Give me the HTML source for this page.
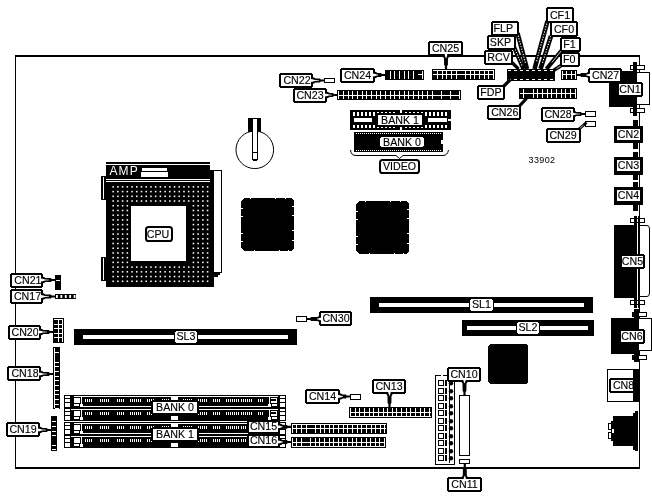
<!DOCTYPE html>
<html><head><meta charset="utf-8"><title>33902</title>
<style>
html,body{margin:0;padding:0;background:#fff;}
body{width:652px;height:500px;overflow:hidden;}
svg{display:block;font-family:"Liberation Sans",sans-serif;will-change:transform;transform:translateZ(0);}
</style></head>
<body>
<svg width="652" height="500" viewBox="0 0 652 500" shape-rendering="crispEdges">
<rect x="0" y="0" width="652" height="500" fill="#fff"/>
<rect x="15" y="55" width="625" height="2" fill="#000"/>
<rect x="15" y="55" width="1" height="414" fill="#000"/>
<rect x="15" y="467" width="625" height="2" fill="#000"/>
<rect x="639" y="55" width="1" height="414" fill="#000"/>
<rect x="106" y="162" width="104" height="2" fill="#000"/>
<rect x="106" y="165" width="104" height="14" fill="#000"/>
<rect x="106" y="180" width="104" height="1" fill="#000"/>
<rect x="106" y="182" width="108" height="105" fill="#000"/>
<rect x="210" y="170" width="12" height="103" fill="#000"/>
<rect x="214" y="171" width="7" height="101" fill="#fff"/>
<rect x="214" y="273" width="6" height="2" fill="#000"/>
<rect x="214" y="275" width="4" height="2" fill="#000"/>
<rect x="101" y="176" width="5" height="24" fill="#000"/>
<rect x="103" y="177" width="1" height="22" fill="#fff"/>
<rect x="101" y="257" width="5" height="24" fill="#000"/>
<rect x="103" y="258" width="1" height="22" fill="#fff"/>
<rect x="112.4" y="186.1" width="1.55" height="1.55" fill="#fff" shape-rendering="geometricPrecision"/>
<rect x="112.4" y="190.82" width="1.55" height="1.55" fill="#fff" shape-rendering="geometricPrecision"/>
<rect x="112.4" y="195.54" width="1.55" height="1.55" fill="#fff" shape-rendering="geometricPrecision"/>
<rect x="112.4" y="200.26" width="1.55" height="1.55" fill="#fff" shape-rendering="geometricPrecision"/>
<rect x="112.4" y="204.98" width="1.55" height="1.55" fill="#fff" shape-rendering="geometricPrecision"/>
<rect x="112.4" y="209.7" width="1.55" height="1.55" fill="#fff" shape-rendering="geometricPrecision"/>
<rect x="112.4" y="214.42" width="1.55" height="1.55" fill="#fff" shape-rendering="geometricPrecision"/>
<rect x="112.4" y="219.14" width="1.55" height="1.55" fill="#fff" shape-rendering="geometricPrecision"/>
<rect x="112.4" y="223.86" width="1.55" height="1.55" fill="#fff" shape-rendering="geometricPrecision"/>
<rect x="112.4" y="228.58" width="1.55" height="1.55" fill="#fff" shape-rendering="geometricPrecision"/>
<rect x="112.4" y="233.3" width="1.55" height="1.55" fill="#fff" shape-rendering="geometricPrecision"/>
<rect x="112.4" y="238.02" width="1.55" height="1.55" fill="#fff" shape-rendering="geometricPrecision"/>
<rect x="112.4" y="242.74" width="1.55" height="1.55" fill="#fff" shape-rendering="geometricPrecision"/>
<rect x="112.4" y="247.46" width="1.55" height="1.55" fill="#fff" shape-rendering="geometricPrecision"/>
<rect x="112.4" y="252.18" width="1.55" height="1.55" fill="#fff" shape-rendering="geometricPrecision"/>
<rect x="112.4" y="256.9" width="1.55" height="1.55" fill="#fff" shape-rendering="geometricPrecision"/>
<rect x="112.4" y="261.62" width="1.55" height="1.55" fill="#fff" shape-rendering="geometricPrecision"/>
<rect x="112.4" y="266.34" width="1.55" height="1.55" fill="#fff" shape-rendering="geometricPrecision"/>
<rect x="112.4" y="271.06" width="1.55" height="1.55" fill="#fff" shape-rendering="geometricPrecision"/>
<rect x="112.4" y="275.78" width="1.55" height="1.55" fill="#fff" shape-rendering="geometricPrecision"/>
<rect x="112.4" y="280.5" width="1.55" height="1.55" fill="#fff" shape-rendering="geometricPrecision"/>
<rect x="117.12" y="186.1" width="1.55" height="1.55" fill="#fff" shape-rendering="geometricPrecision"/>
<rect x="117.12" y="190.82" width="1.55" height="1.55" fill="#fff" shape-rendering="geometricPrecision"/>
<rect x="117.12" y="195.54" width="1.55" height="1.55" fill="#fff" shape-rendering="geometricPrecision"/>
<rect x="117.12" y="200.26" width="1.55" height="1.55" fill="#fff" shape-rendering="geometricPrecision"/>
<rect x="117.12" y="204.98" width="1.55" height="1.55" fill="#fff" shape-rendering="geometricPrecision"/>
<rect x="117.12" y="209.7" width="1.55" height="1.55" fill="#fff" shape-rendering="geometricPrecision"/>
<rect x="117.12" y="214.42" width="1.55" height="1.55" fill="#fff" shape-rendering="geometricPrecision"/>
<rect x="117.12" y="219.14" width="1.55" height="1.55" fill="#fff" shape-rendering="geometricPrecision"/>
<rect x="117.12" y="223.86" width="1.55" height="1.55" fill="#fff" shape-rendering="geometricPrecision"/>
<rect x="117.12" y="228.58" width="1.55" height="1.55" fill="#fff" shape-rendering="geometricPrecision"/>
<rect x="117.12" y="233.3" width="1.55" height="1.55" fill="#fff" shape-rendering="geometricPrecision"/>
<rect x="117.12" y="238.02" width="1.55" height="1.55" fill="#fff" shape-rendering="geometricPrecision"/>
<rect x="117.12" y="242.74" width="1.55" height="1.55" fill="#fff" shape-rendering="geometricPrecision"/>
<rect x="117.12" y="247.46" width="1.55" height="1.55" fill="#fff" shape-rendering="geometricPrecision"/>
<rect x="117.12" y="252.18" width="1.55" height="1.55" fill="#fff" shape-rendering="geometricPrecision"/>
<rect x="117.12" y="256.9" width="1.55" height="1.55" fill="#fff" shape-rendering="geometricPrecision"/>
<rect x="117.12" y="261.62" width="1.55" height="1.55" fill="#fff" shape-rendering="geometricPrecision"/>
<rect x="117.12" y="266.34" width="1.55" height="1.55" fill="#fff" shape-rendering="geometricPrecision"/>
<rect x="117.12" y="271.06" width="1.55" height="1.55" fill="#fff" shape-rendering="geometricPrecision"/>
<rect x="117.12" y="275.78" width="1.55" height="1.55" fill="#fff" shape-rendering="geometricPrecision"/>
<rect x="117.12" y="280.5" width="1.55" height="1.55" fill="#fff" shape-rendering="geometricPrecision"/>
<rect x="121.84" y="186.1" width="1.55" height="1.55" fill="#fff" shape-rendering="geometricPrecision"/>
<rect x="121.84" y="190.82" width="1.55" height="1.55" fill="#fff" shape-rendering="geometricPrecision"/>
<rect x="121.84" y="195.54" width="1.55" height="1.55" fill="#fff" shape-rendering="geometricPrecision"/>
<rect x="121.84" y="200.26" width="1.55" height="1.55" fill="#fff" shape-rendering="geometricPrecision"/>
<rect x="121.84" y="204.98" width="1.55" height="1.55" fill="#fff" shape-rendering="geometricPrecision"/>
<rect x="121.84" y="209.7" width="1.55" height="1.55" fill="#fff" shape-rendering="geometricPrecision"/>
<rect x="121.84" y="214.42" width="1.55" height="1.55" fill="#fff" shape-rendering="geometricPrecision"/>
<rect x="121.84" y="219.14" width="1.55" height="1.55" fill="#fff" shape-rendering="geometricPrecision"/>
<rect x="121.84" y="223.86" width="1.55" height="1.55" fill="#fff" shape-rendering="geometricPrecision"/>
<rect x="121.84" y="228.58" width="1.55" height="1.55" fill="#fff" shape-rendering="geometricPrecision"/>
<rect x="121.84" y="233.3" width="1.55" height="1.55" fill="#fff" shape-rendering="geometricPrecision"/>
<rect x="121.84" y="238.02" width="1.55" height="1.55" fill="#fff" shape-rendering="geometricPrecision"/>
<rect x="121.84" y="242.74" width="1.55" height="1.55" fill="#fff" shape-rendering="geometricPrecision"/>
<rect x="121.84" y="247.46" width="1.55" height="1.55" fill="#fff" shape-rendering="geometricPrecision"/>
<rect x="121.84" y="252.18" width="1.55" height="1.55" fill="#fff" shape-rendering="geometricPrecision"/>
<rect x="121.84" y="256.9" width="1.55" height="1.55" fill="#fff" shape-rendering="geometricPrecision"/>
<rect x="121.84" y="261.62" width="1.55" height="1.55" fill="#fff" shape-rendering="geometricPrecision"/>
<rect x="121.84" y="266.34" width="1.55" height="1.55" fill="#fff" shape-rendering="geometricPrecision"/>
<rect x="121.84" y="271.06" width="1.55" height="1.55" fill="#fff" shape-rendering="geometricPrecision"/>
<rect x="121.84" y="275.78" width="1.55" height="1.55" fill="#fff" shape-rendering="geometricPrecision"/>
<rect x="121.84" y="280.5" width="1.55" height="1.55" fill="#fff" shape-rendering="geometricPrecision"/>
<rect x="126.56" y="186.1" width="1.55" height="1.55" fill="#fff" shape-rendering="geometricPrecision"/>
<rect x="126.56" y="190.82" width="1.55" height="1.55" fill="#fff" shape-rendering="geometricPrecision"/>
<rect x="126.56" y="195.54" width="1.55" height="1.55" fill="#fff" shape-rendering="geometricPrecision"/>
<rect x="126.56" y="200.26" width="1.55" height="1.55" fill="#fff" shape-rendering="geometricPrecision"/>
<rect x="126.56" y="204.98" width="1.55" height="1.55" fill="#fff" shape-rendering="geometricPrecision"/>
<rect x="126.56" y="209.7" width="1.55" height="1.55" fill="#fff" shape-rendering="geometricPrecision"/>
<rect x="126.56" y="214.42" width="1.55" height="1.55" fill="#fff" shape-rendering="geometricPrecision"/>
<rect x="126.56" y="219.14" width="1.55" height="1.55" fill="#fff" shape-rendering="geometricPrecision"/>
<rect x="126.56" y="223.86" width="1.55" height="1.55" fill="#fff" shape-rendering="geometricPrecision"/>
<rect x="126.56" y="228.58" width="1.55" height="1.55" fill="#fff" shape-rendering="geometricPrecision"/>
<rect x="126.56" y="233.3" width="1.55" height="1.55" fill="#fff" shape-rendering="geometricPrecision"/>
<rect x="126.56" y="238.02" width="1.55" height="1.55" fill="#fff" shape-rendering="geometricPrecision"/>
<rect x="126.56" y="242.74" width="1.55" height="1.55" fill="#fff" shape-rendering="geometricPrecision"/>
<rect x="126.56" y="247.46" width="1.55" height="1.55" fill="#fff" shape-rendering="geometricPrecision"/>
<rect x="126.56" y="252.18" width="1.55" height="1.55" fill="#fff" shape-rendering="geometricPrecision"/>
<rect x="126.56" y="256.9" width="1.55" height="1.55" fill="#fff" shape-rendering="geometricPrecision"/>
<rect x="126.56" y="261.62" width="1.55" height="1.55" fill="#fff" shape-rendering="geometricPrecision"/>
<rect x="126.56" y="266.34" width="1.55" height="1.55" fill="#fff" shape-rendering="geometricPrecision"/>
<rect x="126.56" y="271.06" width="1.55" height="1.55" fill="#fff" shape-rendering="geometricPrecision"/>
<rect x="126.56" y="275.78" width="1.55" height="1.55" fill="#fff" shape-rendering="geometricPrecision"/>
<rect x="126.56" y="280.5" width="1.55" height="1.55" fill="#fff" shape-rendering="geometricPrecision"/>
<rect x="131.28" y="186.1" width="1.55" height="1.55" fill="#fff" shape-rendering="geometricPrecision"/>
<rect x="131.28" y="190.82" width="1.55" height="1.55" fill="#fff" shape-rendering="geometricPrecision"/>
<rect x="131.28" y="195.54" width="1.55" height="1.55" fill="#fff" shape-rendering="geometricPrecision"/>
<rect x="131.28" y="200.26" width="1.55" height="1.55" fill="#fff" shape-rendering="geometricPrecision"/>
<rect x="131.28" y="266.34" width="1.55" height="1.55" fill="#fff" shape-rendering="geometricPrecision"/>
<rect x="131.28" y="271.06" width="1.55" height="1.55" fill="#fff" shape-rendering="geometricPrecision"/>
<rect x="131.28" y="275.78" width="1.55" height="1.55" fill="#fff" shape-rendering="geometricPrecision"/>
<rect x="131.28" y="280.5" width="1.55" height="1.55" fill="#fff" shape-rendering="geometricPrecision"/>
<rect x="136" y="186.1" width="1.55" height="1.55" fill="#fff" shape-rendering="geometricPrecision"/>
<rect x="136" y="190.82" width="1.55" height="1.55" fill="#fff" shape-rendering="geometricPrecision"/>
<rect x="136" y="195.54" width="1.55" height="1.55" fill="#fff" shape-rendering="geometricPrecision"/>
<rect x="136" y="200.26" width="1.55" height="1.55" fill="#fff" shape-rendering="geometricPrecision"/>
<rect x="136" y="266.34" width="1.55" height="1.55" fill="#fff" shape-rendering="geometricPrecision"/>
<rect x="136" y="271.06" width="1.55" height="1.55" fill="#fff" shape-rendering="geometricPrecision"/>
<rect x="136" y="275.78" width="1.55" height="1.55" fill="#fff" shape-rendering="geometricPrecision"/>
<rect x="136" y="280.5" width="1.55" height="1.55" fill="#fff" shape-rendering="geometricPrecision"/>
<rect x="140.72" y="186.1" width="1.55" height="1.55" fill="#fff" shape-rendering="geometricPrecision"/>
<rect x="140.72" y="190.82" width="1.55" height="1.55" fill="#fff" shape-rendering="geometricPrecision"/>
<rect x="140.72" y="195.54" width="1.55" height="1.55" fill="#fff" shape-rendering="geometricPrecision"/>
<rect x="140.72" y="200.26" width="1.55" height="1.55" fill="#fff" shape-rendering="geometricPrecision"/>
<rect x="140.72" y="266.34" width="1.55" height="1.55" fill="#fff" shape-rendering="geometricPrecision"/>
<rect x="140.72" y="271.06" width="1.55" height="1.55" fill="#fff" shape-rendering="geometricPrecision"/>
<rect x="140.72" y="275.78" width="1.55" height="1.55" fill="#fff" shape-rendering="geometricPrecision"/>
<rect x="140.72" y="280.5" width="1.55" height="1.55" fill="#fff" shape-rendering="geometricPrecision"/>
<rect x="145.44" y="186.1" width="1.55" height="1.55" fill="#fff" shape-rendering="geometricPrecision"/>
<rect x="145.44" y="190.82" width="1.55" height="1.55" fill="#fff" shape-rendering="geometricPrecision"/>
<rect x="145.44" y="195.54" width="1.55" height="1.55" fill="#fff" shape-rendering="geometricPrecision"/>
<rect x="145.44" y="200.26" width="1.55" height="1.55" fill="#fff" shape-rendering="geometricPrecision"/>
<rect x="145.44" y="266.34" width="1.55" height="1.55" fill="#fff" shape-rendering="geometricPrecision"/>
<rect x="145.44" y="271.06" width="1.55" height="1.55" fill="#fff" shape-rendering="geometricPrecision"/>
<rect x="145.44" y="275.78" width="1.55" height="1.55" fill="#fff" shape-rendering="geometricPrecision"/>
<rect x="145.44" y="280.5" width="1.55" height="1.55" fill="#fff" shape-rendering="geometricPrecision"/>
<rect x="150.16" y="186.1" width="1.55" height="1.55" fill="#fff" shape-rendering="geometricPrecision"/>
<rect x="150.16" y="190.82" width="1.55" height="1.55" fill="#fff" shape-rendering="geometricPrecision"/>
<rect x="150.16" y="195.54" width="1.55" height="1.55" fill="#fff" shape-rendering="geometricPrecision"/>
<rect x="150.16" y="200.26" width="1.55" height="1.55" fill="#fff" shape-rendering="geometricPrecision"/>
<rect x="150.16" y="266.34" width="1.55" height="1.55" fill="#fff" shape-rendering="geometricPrecision"/>
<rect x="150.16" y="271.06" width="1.55" height="1.55" fill="#fff" shape-rendering="geometricPrecision"/>
<rect x="150.16" y="275.78" width="1.55" height="1.55" fill="#fff" shape-rendering="geometricPrecision"/>
<rect x="150.16" y="280.5" width="1.55" height="1.55" fill="#fff" shape-rendering="geometricPrecision"/>
<rect x="154.88" y="186.1" width="1.55" height="1.55" fill="#fff" shape-rendering="geometricPrecision"/>
<rect x="154.88" y="190.82" width="1.55" height="1.55" fill="#fff" shape-rendering="geometricPrecision"/>
<rect x="154.88" y="195.54" width="1.55" height="1.55" fill="#fff" shape-rendering="geometricPrecision"/>
<rect x="154.88" y="200.26" width="1.55" height="1.55" fill="#fff" shape-rendering="geometricPrecision"/>
<rect x="154.88" y="266.34" width="1.55" height="1.55" fill="#fff" shape-rendering="geometricPrecision"/>
<rect x="154.88" y="271.06" width="1.55" height="1.55" fill="#fff" shape-rendering="geometricPrecision"/>
<rect x="154.88" y="275.78" width="1.55" height="1.55" fill="#fff" shape-rendering="geometricPrecision"/>
<rect x="154.88" y="280.5" width="1.55" height="1.55" fill="#fff" shape-rendering="geometricPrecision"/>
<rect x="159.6" y="186.1" width="1.55" height="1.55" fill="#fff" shape-rendering="geometricPrecision"/>
<rect x="159.6" y="190.82" width="1.55" height="1.55" fill="#fff" shape-rendering="geometricPrecision"/>
<rect x="159.6" y="195.54" width="1.55" height="1.55" fill="#fff" shape-rendering="geometricPrecision"/>
<rect x="159.6" y="200.26" width="1.55" height="1.55" fill="#fff" shape-rendering="geometricPrecision"/>
<rect x="159.6" y="266.34" width="1.55" height="1.55" fill="#fff" shape-rendering="geometricPrecision"/>
<rect x="159.6" y="271.06" width="1.55" height="1.55" fill="#fff" shape-rendering="geometricPrecision"/>
<rect x="159.6" y="275.78" width="1.55" height="1.55" fill="#fff" shape-rendering="geometricPrecision"/>
<rect x="159.6" y="280.5" width="1.55" height="1.55" fill="#fff" shape-rendering="geometricPrecision"/>
<rect x="164.32" y="186.1" width="1.55" height="1.55" fill="#fff" shape-rendering="geometricPrecision"/>
<rect x="164.32" y="190.82" width="1.55" height="1.55" fill="#fff" shape-rendering="geometricPrecision"/>
<rect x="164.32" y="195.54" width="1.55" height="1.55" fill="#fff" shape-rendering="geometricPrecision"/>
<rect x="164.32" y="200.26" width="1.55" height="1.55" fill="#fff" shape-rendering="geometricPrecision"/>
<rect x="164.32" y="266.34" width="1.55" height="1.55" fill="#fff" shape-rendering="geometricPrecision"/>
<rect x="164.32" y="271.06" width="1.55" height="1.55" fill="#fff" shape-rendering="geometricPrecision"/>
<rect x="164.32" y="275.78" width="1.55" height="1.55" fill="#fff" shape-rendering="geometricPrecision"/>
<rect x="164.32" y="280.5" width="1.55" height="1.55" fill="#fff" shape-rendering="geometricPrecision"/>
<rect x="169.04" y="186.1" width="1.55" height="1.55" fill="#fff" shape-rendering="geometricPrecision"/>
<rect x="169.04" y="190.82" width="1.55" height="1.55" fill="#fff" shape-rendering="geometricPrecision"/>
<rect x="169.04" y="195.54" width="1.55" height="1.55" fill="#fff" shape-rendering="geometricPrecision"/>
<rect x="169.04" y="200.26" width="1.55" height="1.55" fill="#fff" shape-rendering="geometricPrecision"/>
<rect x="169.04" y="266.34" width="1.55" height="1.55" fill="#fff" shape-rendering="geometricPrecision"/>
<rect x="169.04" y="271.06" width="1.55" height="1.55" fill="#fff" shape-rendering="geometricPrecision"/>
<rect x="169.04" y="275.78" width="1.55" height="1.55" fill="#fff" shape-rendering="geometricPrecision"/>
<rect x="169.04" y="280.5" width="1.55" height="1.55" fill="#fff" shape-rendering="geometricPrecision"/>
<rect x="173.76" y="186.1" width="1.55" height="1.55" fill="#fff" shape-rendering="geometricPrecision"/>
<rect x="173.76" y="190.82" width="1.55" height="1.55" fill="#fff" shape-rendering="geometricPrecision"/>
<rect x="173.76" y="195.54" width="1.55" height="1.55" fill="#fff" shape-rendering="geometricPrecision"/>
<rect x="173.76" y="200.26" width="1.55" height="1.55" fill="#fff" shape-rendering="geometricPrecision"/>
<rect x="173.76" y="266.34" width="1.55" height="1.55" fill="#fff" shape-rendering="geometricPrecision"/>
<rect x="173.76" y="271.06" width="1.55" height="1.55" fill="#fff" shape-rendering="geometricPrecision"/>
<rect x="173.76" y="275.78" width="1.55" height="1.55" fill="#fff" shape-rendering="geometricPrecision"/>
<rect x="173.76" y="280.5" width="1.55" height="1.55" fill="#fff" shape-rendering="geometricPrecision"/>
<rect x="178.48" y="186.1" width="1.55" height="1.55" fill="#fff" shape-rendering="geometricPrecision"/>
<rect x="178.48" y="190.82" width="1.55" height="1.55" fill="#fff" shape-rendering="geometricPrecision"/>
<rect x="178.48" y="195.54" width="1.55" height="1.55" fill="#fff" shape-rendering="geometricPrecision"/>
<rect x="178.48" y="200.26" width="1.55" height="1.55" fill="#fff" shape-rendering="geometricPrecision"/>
<rect x="178.48" y="266.34" width="1.55" height="1.55" fill="#fff" shape-rendering="geometricPrecision"/>
<rect x="178.48" y="271.06" width="1.55" height="1.55" fill="#fff" shape-rendering="geometricPrecision"/>
<rect x="178.48" y="275.78" width="1.55" height="1.55" fill="#fff" shape-rendering="geometricPrecision"/>
<rect x="178.48" y="280.5" width="1.55" height="1.55" fill="#fff" shape-rendering="geometricPrecision"/>
<rect x="183.2" y="186.1" width="1.55" height="1.55" fill="#fff" shape-rendering="geometricPrecision"/>
<rect x="183.2" y="190.82" width="1.55" height="1.55" fill="#fff" shape-rendering="geometricPrecision"/>
<rect x="183.2" y="195.54" width="1.55" height="1.55" fill="#fff" shape-rendering="geometricPrecision"/>
<rect x="183.2" y="200.26" width="1.55" height="1.55" fill="#fff" shape-rendering="geometricPrecision"/>
<rect x="183.2" y="266.34" width="1.55" height="1.55" fill="#fff" shape-rendering="geometricPrecision"/>
<rect x="183.2" y="271.06" width="1.55" height="1.55" fill="#fff" shape-rendering="geometricPrecision"/>
<rect x="183.2" y="275.78" width="1.55" height="1.55" fill="#fff" shape-rendering="geometricPrecision"/>
<rect x="183.2" y="280.5" width="1.55" height="1.55" fill="#fff" shape-rendering="geometricPrecision"/>
<rect x="187.92" y="186.1" width="1.55" height="1.55" fill="#fff" shape-rendering="geometricPrecision"/>
<rect x="187.92" y="190.82" width="1.55" height="1.55" fill="#fff" shape-rendering="geometricPrecision"/>
<rect x="187.92" y="195.54" width="1.55" height="1.55" fill="#fff" shape-rendering="geometricPrecision"/>
<rect x="187.92" y="200.26" width="1.55" height="1.55" fill="#fff" shape-rendering="geometricPrecision"/>
<rect x="187.92" y="266.34" width="1.55" height="1.55" fill="#fff" shape-rendering="geometricPrecision"/>
<rect x="187.92" y="271.06" width="1.55" height="1.55" fill="#fff" shape-rendering="geometricPrecision"/>
<rect x="187.92" y="275.78" width="1.55" height="1.55" fill="#fff" shape-rendering="geometricPrecision"/>
<rect x="187.92" y="280.5" width="1.55" height="1.55" fill="#fff" shape-rendering="geometricPrecision"/>
<rect x="192.64" y="186.1" width="1.55" height="1.55" fill="#fff" shape-rendering="geometricPrecision"/>
<rect x="192.64" y="190.82" width="1.55" height="1.55" fill="#fff" shape-rendering="geometricPrecision"/>
<rect x="192.64" y="195.54" width="1.55" height="1.55" fill="#fff" shape-rendering="geometricPrecision"/>
<rect x="192.64" y="200.26" width="1.55" height="1.55" fill="#fff" shape-rendering="geometricPrecision"/>
<rect x="192.64" y="204.98" width="1.55" height="1.55" fill="#fff" shape-rendering="geometricPrecision"/>
<rect x="192.64" y="209.7" width="1.55" height="1.55" fill="#fff" shape-rendering="geometricPrecision"/>
<rect x="192.64" y="214.42" width="1.55" height="1.55" fill="#fff" shape-rendering="geometricPrecision"/>
<rect x="192.64" y="219.14" width="1.55" height="1.55" fill="#fff" shape-rendering="geometricPrecision"/>
<rect x="192.64" y="223.86" width="1.55" height="1.55" fill="#fff" shape-rendering="geometricPrecision"/>
<rect x="192.64" y="228.58" width="1.55" height="1.55" fill="#fff" shape-rendering="geometricPrecision"/>
<rect x="192.64" y="233.3" width="1.55" height="1.55" fill="#fff" shape-rendering="geometricPrecision"/>
<rect x="192.64" y="238.02" width="1.55" height="1.55" fill="#fff" shape-rendering="geometricPrecision"/>
<rect x="192.64" y="242.74" width="1.55" height="1.55" fill="#fff" shape-rendering="geometricPrecision"/>
<rect x="192.64" y="247.46" width="1.55" height="1.55" fill="#fff" shape-rendering="geometricPrecision"/>
<rect x="192.64" y="252.18" width="1.55" height="1.55" fill="#fff" shape-rendering="geometricPrecision"/>
<rect x="192.64" y="256.9" width="1.55" height="1.55" fill="#fff" shape-rendering="geometricPrecision"/>
<rect x="192.64" y="261.62" width="1.55" height="1.55" fill="#fff" shape-rendering="geometricPrecision"/>
<rect x="192.64" y="266.34" width="1.55" height="1.55" fill="#fff" shape-rendering="geometricPrecision"/>
<rect x="192.64" y="271.06" width="1.55" height="1.55" fill="#fff" shape-rendering="geometricPrecision"/>
<rect x="192.64" y="275.78" width="1.55" height="1.55" fill="#fff" shape-rendering="geometricPrecision"/>
<rect x="192.64" y="280.5" width="1.55" height="1.55" fill="#fff" shape-rendering="geometricPrecision"/>
<rect x="197.36" y="186.1" width="1.55" height="1.55" fill="#fff" shape-rendering="geometricPrecision"/>
<rect x="197.36" y="190.82" width="1.55" height="1.55" fill="#fff" shape-rendering="geometricPrecision"/>
<rect x="197.36" y="195.54" width="1.55" height="1.55" fill="#fff" shape-rendering="geometricPrecision"/>
<rect x="197.36" y="200.26" width="1.55" height="1.55" fill="#fff" shape-rendering="geometricPrecision"/>
<rect x="197.36" y="204.98" width="1.55" height="1.55" fill="#fff" shape-rendering="geometricPrecision"/>
<rect x="197.36" y="209.7" width="1.55" height="1.55" fill="#fff" shape-rendering="geometricPrecision"/>
<rect x="197.36" y="214.42" width="1.55" height="1.55" fill="#fff" shape-rendering="geometricPrecision"/>
<rect x="197.36" y="219.14" width="1.55" height="1.55" fill="#fff" shape-rendering="geometricPrecision"/>
<rect x="197.36" y="223.86" width="1.55" height="1.55" fill="#fff" shape-rendering="geometricPrecision"/>
<rect x="197.36" y="228.58" width="1.55" height="1.55" fill="#fff" shape-rendering="geometricPrecision"/>
<rect x="197.36" y="233.3" width="1.55" height="1.55" fill="#fff" shape-rendering="geometricPrecision"/>
<rect x="197.36" y="238.02" width="1.55" height="1.55" fill="#fff" shape-rendering="geometricPrecision"/>
<rect x="197.36" y="242.74" width="1.55" height="1.55" fill="#fff" shape-rendering="geometricPrecision"/>
<rect x="197.36" y="247.46" width="1.55" height="1.55" fill="#fff" shape-rendering="geometricPrecision"/>
<rect x="197.36" y="252.18" width="1.55" height="1.55" fill="#fff" shape-rendering="geometricPrecision"/>
<rect x="197.36" y="256.9" width="1.55" height="1.55" fill="#fff" shape-rendering="geometricPrecision"/>
<rect x="197.36" y="261.62" width="1.55" height="1.55" fill="#fff" shape-rendering="geometricPrecision"/>
<rect x="197.36" y="266.34" width="1.55" height="1.55" fill="#fff" shape-rendering="geometricPrecision"/>
<rect x="197.36" y="271.06" width="1.55" height="1.55" fill="#fff" shape-rendering="geometricPrecision"/>
<rect x="197.36" y="275.78" width="1.55" height="1.55" fill="#fff" shape-rendering="geometricPrecision"/>
<rect x="197.36" y="280.5" width="1.55" height="1.55" fill="#fff" shape-rendering="geometricPrecision"/>
<rect x="202.08" y="186.1" width="1.55" height="1.55" fill="#fff" shape-rendering="geometricPrecision"/>
<rect x="202.08" y="190.82" width="1.55" height="1.55" fill="#fff" shape-rendering="geometricPrecision"/>
<rect x="202.08" y="195.54" width="1.55" height="1.55" fill="#fff" shape-rendering="geometricPrecision"/>
<rect x="202.08" y="200.26" width="1.55" height="1.55" fill="#fff" shape-rendering="geometricPrecision"/>
<rect x="202.08" y="204.98" width="1.55" height="1.55" fill="#fff" shape-rendering="geometricPrecision"/>
<rect x="202.08" y="209.7" width="1.55" height="1.55" fill="#fff" shape-rendering="geometricPrecision"/>
<rect x="202.08" y="214.42" width="1.55" height="1.55" fill="#fff" shape-rendering="geometricPrecision"/>
<rect x="202.08" y="219.14" width="1.55" height="1.55" fill="#fff" shape-rendering="geometricPrecision"/>
<rect x="202.08" y="223.86" width="1.55" height="1.55" fill="#fff" shape-rendering="geometricPrecision"/>
<rect x="202.08" y="228.58" width="1.55" height="1.55" fill="#fff" shape-rendering="geometricPrecision"/>
<rect x="202.08" y="233.3" width="1.55" height="1.55" fill="#fff" shape-rendering="geometricPrecision"/>
<rect x="202.08" y="238.02" width="1.55" height="1.55" fill="#fff" shape-rendering="geometricPrecision"/>
<rect x="202.08" y="242.74" width="1.55" height="1.55" fill="#fff" shape-rendering="geometricPrecision"/>
<rect x="202.08" y="247.46" width="1.55" height="1.55" fill="#fff" shape-rendering="geometricPrecision"/>
<rect x="202.08" y="252.18" width="1.55" height="1.55" fill="#fff" shape-rendering="geometricPrecision"/>
<rect x="202.08" y="256.9" width="1.55" height="1.55" fill="#fff" shape-rendering="geometricPrecision"/>
<rect x="202.08" y="261.62" width="1.55" height="1.55" fill="#fff" shape-rendering="geometricPrecision"/>
<rect x="202.08" y="266.34" width="1.55" height="1.55" fill="#fff" shape-rendering="geometricPrecision"/>
<rect x="202.08" y="271.06" width="1.55" height="1.55" fill="#fff" shape-rendering="geometricPrecision"/>
<rect x="202.08" y="275.78" width="1.55" height="1.55" fill="#fff" shape-rendering="geometricPrecision"/>
<rect x="202.08" y="280.5" width="1.55" height="1.55" fill="#fff" shape-rendering="geometricPrecision"/>
<rect x="206.8" y="186.1" width="1.55" height="1.55" fill="#fff" shape-rendering="geometricPrecision"/>
<rect x="206.8" y="190.82" width="1.55" height="1.55" fill="#fff" shape-rendering="geometricPrecision"/>
<rect x="206.8" y="195.54" width="1.55" height="1.55" fill="#fff" shape-rendering="geometricPrecision"/>
<rect x="206.8" y="200.26" width="1.55" height="1.55" fill="#fff" shape-rendering="geometricPrecision"/>
<rect x="206.8" y="204.98" width="1.55" height="1.55" fill="#fff" shape-rendering="geometricPrecision"/>
<rect x="206.8" y="209.7" width="1.55" height="1.55" fill="#fff" shape-rendering="geometricPrecision"/>
<rect x="206.8" y="214.42" width="1.55" height="1.55" fill="#fff" shape-rendering="geometricPrecision"/>
<rect x="206.8" y="219.14" width="1.55" height="1.55" fill="#fff" shape-rendering="geometricPrecision"/>
<rect x="206.8" y="223.86" width="1.55" height="1.55" fill="#fff" shape-rendering="geometricPrecision"/>
<rect x="206.8" y="228.58" width="1.55" height="1.55" fill="#fff" shape-rendering="geometricPrecision"/>
<rect x="206.8" y="233.3" width="1.55" height="1.55" fill="#fff" shape-rendering="geometricPrecision"/>
<rect x="206.8" y="238.02" width="1.55" height="1.55" fill="#fff" shape-rendering="geometricPrecision"/>
<rect x="206.8" y="242.74" width="1.55" height="1.55" fill="#fff" shape-rendering="geometricPrecision"/>
<rect x="206.8" y="247.46" width="1.55" height="1.55" fill="#fff" shape-rendering="geometricPrecision"/>
<rect x="206.8" y="252.18" width="1.55" height="1.55" fill="#fff" shape-rendering="geometricPrecision"/>
<rect x="206.8" y="256.9" width="1.55" height="1.55" fill="#fff" shape-rendering="geometricPrecision"/>
<rect x="206.8" y="261.62" width="1.55" height="1.55" fill="#fff" shape-rendering="geometricPrecision"/>
<rect x="206.8" y="266.34" width="1.55" height="1.55" fill="#fff" shape-rendering="geometricPrecision"/>
<rect x="206.8" y="271.06" width="1.55" height="1.55" fill="#fff" shape-rendering="geometricPrecision"/>
<rect x="206.8" y="275.78" width="1.55" height="1.55" fill="#fff" shape-rendering="geometricPrecision"/>
<rect x="206.8" y="280.5" width="1.55" height="1.55" fill="#fff" shape-rendering="geometricPrecision"/>
<rect x="131" y="206" width="55" height="55" fill="#fff"/>
<rect x="142" y="168" width="25" height="3" fill="#fff"/>
<rect x="141" y="172" width="27" height="5" fill="#fff"/>
<text x="109.5" y="175.3" font-size="12" fill="#fff" text-anchor="start" letter-spacing="1.1">AMP</text>
<rect x="146" y="227" width="26" height="14" rx="2.6" fill="#fff" stroke="#000" stroke-width="2" shape-rendering="geometricPrecision"/>
<text x="158" y="238" font-size="10.67" fill="#000" text-anchor="middle" stroke="#000" stroke-width="0.12">CPU</text>
<circle cx="254.8" cy="149.8" r="18.8" fill="#fff" stroke="#000" stroke-width="1" shape-rendering="geometricPrecision"/>
<rect x="248" y="118" width="13" height="14" fill="#000"/>
<rect x="252" y="119" width="6" height="41" fill="#000"/>
<rect x="253" y="119" width="4" height="40" fill="#fff"/>
<rect x="253" y="152" width="4" height="1" fill="#000"/>
<rect x="253" y="159" width="4" height="2" fill="#000"/>
<polygon points="244,198 291,198 294,201 294,248 291,251 244,251 241,248 241,201" fill="#000"/>
<rect x="250" y="198" width="1" height="1" fill="#fff"/>
<rect x="275" y="198" width="1" height="1" fill="#fff"/>
<rect x="285" y="198" width="1" height="1" fill="#fff"/>
<rect x="254" y="250" width="1" height="1" fill="#fff"/>
<rect x="279" y="250" width="1" height="1" fill="#fff"/>
<rect x="288" y="250" width="1" height="1" fill="#fff"/>
<rect x="292" y="206" width="2" height="1" fill="#fff"/>
<rect x="292" y="215" width="2" height="1" fill="#fff"/>
<rect x="292" y="230" width="2" height="1" fill="#fff"/>
<rect x="292" y="240" width="2" height="1" fill="#fff"/>
<rect x="241" y="208" width="2" height="1" fill="#fff"/>
<rect x="241" y="216" width="2" height="1" fill="#fff"/>
<rect x="241" y="233" width="2" height="1" fill="#fff"/>
<rect x="241" y="241" width="2" height="1" fill="#fff"/>
<polygon points="359,201 406,201 409,204 409,251 406,254 359,254 356,251 356,204" fill="#000"/>
<rect x="365" y="201" width="1" height="1" fill="#fff"/>
<rect x="390" y="201" width="1" height="1" fill="#fff"/>
<rect x="400" y="201" width="1" height="1" fill="#fff"/>
<rect x="369" y="253" width="1" height="1" fill="#fff"/>
<rect x="394" y="253" width="1" height="1" fill="#fff"/>
<rect x="403" y="253" width="1" height="1" fill="#fff"/>
<rect x="407" y="209" width="2" height="1" fill="#fff"/>
<rect x="407" y="218" width="2" height="1" fill="#fff"/>
<rect x="407" y="233" width="2" height="1" fill="#fff"/>
<rect x="407" y="243" width="2" height="1" fill="#fff"/>
<rect x="356" y="211" width="2" height="1" fill="#fff"/>
<rect x="356" y="219" width="2" height="1" fill="#fff"/>
<rect x="356" y="236" width="2" height="1" fill="#fff"/>
<rect x="356" y="244" width="2" height="1" fill="#fff"/>
<polygon points="490,344 526,344 528,346 528,382 526,384 490,384 488,382 488,346" fill="#000"/>
<rect x="370" y="297" width="223" height="16" fill="#000"/>
<rect x="379" y="303" width="205" height="4" fill="#fff"/>
<rect x="462" y="320" width="132" height="16" fill="#000"/>
<rect x="467" y="326" width="121" height="4" fill="#fff"/>
<rect x="74" y="329" width="223" height="16" fill="#000"/>
<rect x="83" y="335" width="205" height="4" fill="#fff"/>
<rect x="469" y="299" width="25" height="12" fill="#000"/>
<rect x="470" y="300" width="23" height="10" fill="#fff"/>
<rect x="471" y="299" width="21" height="12" fill="#fff"/>
<text x="481.5" y="308" font-size="10.67" fill="#000" text-anchor="middle" stroke="#000" stroke-width="0.12">SL1</text>
<rect x="516" y="322" width="24" height="12" fill="#000"/>
<rect x="517" y="323" width="22" height="10" fill="#fff"/>
<rect x="518" y="322" width="20" height="12" fill="#fff"/>
<text x="528" y="331" font-size="10.67" fill="#000" text-anchor="middle" stroke="#000" stroke-width="0.12">SL2</text>
<rect x="174" y="331" width="24" height="12" fill="#000"/>
<rect x="175" y="332" width="22" height="10" fill="#fff"/>
<rect x="176" y="331" width="20" height="12" fill="#fff"/>
<text x="186" y="340" font-size="10.67" fill="#000" text-anchor="middle" stroke="#000" stroke-width="0.12">SL3</text>
<rect x="350" y="110" width="50" height="20" fill="#000"/>
<rect x="353" y="112" width="2" height="4" fill="#fff"/>
<rect x="353" y="125" width="2" height="3" fill="#fff"/>
<rect x="357" y="112" width="2" height="4" fill="#fff"/>
<rect x="357" y="125" width="2" height="3" fill="#fff"/>
<rect x="361" y="112" width="2" height="4" fill="#fff"/>
<rect x="361" y="125" width="2" height="3" fill="#fff"/>
<rect x="365" y="112" width="2" height="4" fill="#fff"/>
<rect x="365" y="125" width="2" height="3" fill="#fff"/>
<rect x="369" y="112" width="2" height="4" fill="#fff"/>
<rect x="369" y="125" width="2" height="3" fill="#fff"/>
<rect x="373" y="112" width="2" height="4" fill="#fff"/>
<rect x="373" y="125" width="2" height="3" fill="#fff"/>
<rect x="377" y="112" width="2" height="4" fill="#fff"/>
<rect x="377" y="125" width="2" height="3" fill="#fff"/>
<rect x="381" y="112" width="2" height="4" fill="#fff"/>
<rect x="381" y="125" width="2" height="3" fill="#fff"/>
<rect x="385" y="112" width="2" height="4" fill="#fff"/>
<rect x="385" y="125" width="2" height="3" fill="#fff"/>
<rect x="389" y="112" width="2" height="4" fill="#fff"/>
<rect x="389" y="125" width="2" height="3" fill="#fff"/>
<rect x="393" y="112" width="2" height="4" fill="#fff"/>
<rect x="393" y="125" width="2" height="3" fill="#fff"/>
<rect x="402" y="110" width="49" height="20" fill="#000"/>
<rect x="405" y="112" width="2" height="4" fill="#fff"/>
<rect x="405" y="125" width="2" height="3" fill="#fff"/>
<rect x="409" y="112" width="2" height="4" fill="#fff"/>
<rect x="409" y="125" width="2" height="3" fill="#fff"/>
<rect x="413" y="112" width="2" height="4" fill="#fff"/>
<rect x="413" y="125" width="2" height="3" fill="#fff"/>
<rect x="417" y="112" width="2" height="4" fill="#fff"/>
<rect x="417" y="125" width="2" height="3" fill="#fff"/>
<rect x="421" y="112" width="2" height="4" fill="#fff"/>
<rect x="421" y="125" width="2" height="3" fill="#fff"/>
<rect x="425" y="112" width="2" height="4" fill="#fff"/>
<rect x="425" y="125" width="2" height="3" fill="#fff"/>
<rect x="429" y="112" width="2" height="4" fill="#fff"/>
<rect x="429" y="125" width="2" height="3" fill="#fff"/>
<rect x="433" y="112" width="2" height="4" fill="#fff"/>
<rect x="433" y="125" width="2" height="3" fill="#fff"/>
<rect x="437" y="112" width="2" height="4" fill="#fff"/>
<rect x="437" y="125" width="2" height="3" fill="#fff"/>
<rect x="441" y="112" width="2" height="4" fill="#fff"/>
<rect x="441" y="125" width="2" height="3" fill="#fff"/>
<rect x="445" y="112" width="2" height="4" fill="#fff"/>
<rect x="445" y="125" width="2" height="3" fill="#fff"/>
<rect x="354" y="118" width="18" height="4" fill="#fff"/>
<rect x="428" y="118" width="19" height="4" fill="#fff"/>
<rect x="448" y="119" width="3" height="2" fill="#fff"/>
<rect x="354" y="132" width="89" height="20" fill="#000"/>
<rect x="356" y="133" width="1" height="1" fill="#fff"/>
<rect x="356" y="150" width="1" height="1" fill="#fff"/>
<rect x="358" y="133" width="1" height="1" fill="#fff"/>
<rect x="358" y="150" width="1" height="1" fill="#fff"/>
<rect x="360" y="133" width="1" height="1" fill="#fff"/>
<rect x="360" y="150" width="1" height="1" fill="#fff"/>
<rect x="362" y="133" width="1" height="1" fill="#fff"/>
<rect x="362" y="150" width="1" height="1" fill="#fff"/>
<rect x="364" y="133" width="1" height="1" fill="#fff"/>
<rect x="364" y="150" width="1" height="1" fill="#fff"/>
<rect x="366" y="133" width="1" height="1" fill="#fff"/>
<rect x="366" y="150" width="1" height="1" fill="#fff"/>
<rect x="368" y="133" width="1" height="1" fill="#fff"/>
<rect x="368" y="150" width="1" height="1" fill="#fff"/>
<rect x="370" y="133" width="1" height="1" fill="#fff"/>
<rect x="370" y="150" width="1" height="1" fill="#fff"/>
<rect x="372" y="133" width="1" height="1" fill="#fff"/>
<rect x="372" y="150" width="1" height="1" fill="#fff"/>
<rect x="374" y="133" width="1" height="1" fill="#fff"/>
<rect x="374" y="150" width="1" height="1" fill="#fff"/>
<rect x="376" y="133" width="1" height="1" fill="#fff"/>
<rect x="376" y="150" width="1" height="1" fill="#fff"/>
<rect x="378" y="133" width="1" height="1" fill="#fff"/>
<rect x="378" y="150" width="1" height="1" fill="#fff"/>
<rect x="380" y="133" width="1" height="1" fill="#fff"/>
<rect x="380" y="150" width="1" height="1" fill="#fff"/>
<rect x="382" y="133" width="1" height="1" fill="#fff"/>
<rect x="382" y="150" width="1" height="1" fill="#fff"/>
<rect x="384" y="133" width="1" height="1" fill="#fff"/>
<rect x="384" y="150" width="1" height="1" fill="#fff"/>
<rect x="386" y="133" width="1" height="1" fill="#fff"/>
<rect x="386" y="150" width="1" height="1" fill="#fff"/>
<rect x="388" y="133" width="1" height="1" fill="#fff"/>
<rect x="388" y="150" width="1" height="1" fill="#fff"/>
<rect x="390" y="133" width="1" height="1" fill="#fff"/>
<rect x="390" y="150" width="1" height="1" fill="#fff"/>
<rect x="392" y="133" width="1" height="1" fill="#fff"/>
<rect x="392" y="150" width="1" height="1" fill="#fff"/>
<rect x="394" y="133" width="1" height="1" fill="#fff"/>
<rect x="394" y="150" width="1" height="1" fill="#fff"/>
<rect x="396" y="133" width="1" height="1" fill="#fff"/>
<rect x="396" y="150" width="1" height="1" fill="#fff"/>
<rect x="398" y="133" width="1" height="1" fill="#fff"/>
<rect x="398" y="150" width="1" height="1" fill="#fff"/>
<rect x="400" y="133" width="1" height="1" fill="#fff"/>
<rect x="400" y="150" width="1" height="1" fill="#fff"/>
<rect x="402" y="133" width="1" height="1" fill="#fff"/>
<rect x="402" y="150" width="1" height="1" fill="#fff"/>
<rect x="404" y="133" width="1" height="1" fill="#fff"/>
<rect x="404" y="150" width="1" height="1" fill="#fff"/>
<rect x="406" y="133" width="1" height="1" fill="#fff"/>
<rect x="406" y="150" width="1" height="1" fill="#fff"/>
<rect x="408" y="133" width="1" height="1" fill="#fff"/>
<rect x="408" y="150" width="1" height="1" fill="#fff"/>
<rect x="410" y="133" width="1" height="1" fill="#fff"/>
<rect x="410" y="150" width="1" height="1" fill="#fff"/>
<rect x="412" y="133" width="1" height="1" fill="#fff"/>
<rect x="412" y="150" width="1" height="1" fill="#fff"/>
<rect x="414" y="133" width="1" height="1" fill="#fff"/>
<rect x="414" y="150" width="1" height="1" fill="#fff"/>
<rect x="416" y="133" width="1" height="1" fill="#fff"/>
<rect x="416" y="150" width="1" height="1" fill="#fff"/>
<rect x="418" y="133" width="1" height="1" fill="#fff"/>
<rect x="418" y="150" width="1" height="1" fill="#fff"/>
<rect x="420" y="133" width="1" height="1" fill="#fff"/>
<rect x="420" y="150" width="1" height="1" fill="#fff"/>
<rect x="422" y="133" width="1" height="1" fill="#fff"/>
<rect x="422" y="150" width="1" height="1" fill="#fff"/>
<rect x="424" y="133" width="1" height="1" fill="#fff"/>
<rect x="424" y="150" width="1" height="1" fill="#fff"/>
<rect x="426" y="133" width="1" height="1" fill="#fff"/>
<rect x="426" y="150" width="1" height="1" fill="#fff"/>
<rect x="428" y="133" width="1" height="1" fill="#fff"/>
<rect x="428" y="150" width="1" height="1" fill="#fff"/>
<rect x="430" y="133" width="1" height="1" fill="#fff"/>
<rect x="430" y="150" width="1" height="1" fill="#fff"/>
<rect x="432" y="133" width="1" height="1" fill="#fff"/>
<rect x="432" y="150" width="1" height="1" fill="#fff"/>
<rect x="434" y="133" width="1" height="1" fill="#fff"/>
<rect x="434" y="150" width="1" height="1" fill="#fff"/>
<rect x="436" y="133" width="1" height="1" fill="#fff"/>
<rect x="436" y="150" width="1" height="1" fill="#fff"/>
<rect x="438" y="133" width="1" height="1" fill="#fff"/>
<rect x="438" y="150" width="1" height="1" fill="#fff"/>
<rect x="440" y="133" width="1" height="1" fill="#fff"/>
<rect x="440" y="150" width="1" height="1" fill="#fff"/>
<rect x="441" y="140" width="2" height="4" fill="#fff"/>
<rect x="377" y="113" width="46" height="14" fill="#000"/>
<rect x="376" y="114" width="48" height="12" fill="#000"/>
<rect x="378" y="115" width="44" height="10" fill="#fff"/>
<text x="400" y="123.5" font-size="10.67" fill="#000" text-anchor="middle" stroke="#000" stroke-width="0.12">BANK 1</text>
<rect x="379" y="137" width="46" height="10" fill="#000"/>
<rect x="380" y="138" width="44" height="8" fill="#fff"/>
<rect x="381" y="137" width="42" height="10" fill="#fff"/>
<text x="402" y="145.5" font-size="10.67" fill="#000" text-anchor="middle" stroke="#000" stroke-width="0.12">BANK 0</text>
<path d="M350.5 150 Q351 155.5 356 155.5 L396 155.5 L399.5 158.5 L403 155.5 L443 155.5 Q447.5 155.5 448.5 150" fill="none" stroke="#000" stroke-width="1" shape-rendering="geometricPrecision"/>
<rect x="380" y="160" width="39" height="13" rx="2.6" fill="#fff" stroke="#000" stroke-width="2" shape-rendering="geometricPrecision"/>
<text x="399.5" y="170.3" font-size="10.67" fill="#000" text-anchor="middle" stroke="#000" stroke-width="0.12">VIDEO</text>
<rect x="385" y="70" width="39" height="10" fill="#000"/>
<rect x="390" y="71" width="1" height="8" fill="#fff"/>
<rect x="394" y="71" width="1" height="8" fill="#fff"/>
<rect x="399" y="71" width="1" height="8" fill="#fff"/>
<rect x="404" y="71" width="1" height="8" fill="#fff"/>
<rect x="408" y="71" width="1" height="8" fill="#fff"/>
<rect x="413" y="71" width="1" height="8" fill="#fff"/>
<rect x="422" y="71" width="1" height="8" fill="#fff"/>
<rect x="418" y="74" width="4" height="1" fill="#fff"/>
<rect x="432" y="69" width="63" height="11" fill="#000"/>
<rect x="437" y="70" width="1" height="9" fill="#fff"/>
<rect x="442" y="70" width="1" height="9" fill="#fff"/>
<rect x="446" y="70" width="1" height="9" fill="#fff"/>
<rect x="451" y="70" width="1" height="9" fill="#fff"/>
<rect x="456" y="70" width="1" height="9" fill="#fff"/>
<rect x="465" y="70" width="1" height="9" fill="#fff"/>
<rect x="470" y="70" width="1" height="9" fill="#fff"/>
<rect x="474" y="70" width="1" height="9" fill="#fff"/>
<rect x="479" y="70" width="1" height="9" fill="#fff"/>
<rect x="484" y="70" width="1" height="9" fill="#fff"/>
<rect x="488" y="70" width="1" height="9" fill="#fff"/>
<rect x="493" y="70" width="1" height="9" fill="#fff"/>
<rect x="433" y="70" width="61" height="1" fill="#fff"/>
<rect x="433" y="74" width="61" height="1" fill="#fff"/>
<rect x="337" y="90" width="124" height="10" fill="#000"/>
<rect x="338" y="91" width="1" height="8" fill="#fff"/>
<rect x="343" y="91" width="1" height="8" fill="#fff"/>
<rect x="348" y="91" width="1" height="8" fill="#fff"/>
<rect x="352" y="91" width="1" height="8" fill="#fff"/>
<rect x="357" y="91" width="1" height="8" fill="#fff"/>
<rect x="362" y="91" width="1" height="8" fill="#fff"/>
<rect x="366" y="91" width="1" height="8" fill="#fff"/>
<rect x="371" y="91" width="1" height="8" fill="#fff"/>
<rect x="376" y="91" width="1" height="8" fill="#fff"/>
<rect x="380" y="91" width="1" height="8" fill="#fff"/>
<rect x="385" y="91" width="1" height="8" fill="#fff"/>
<rect x="390" y="91" width="1" height="8" fill="#fff"/>
<rect x="394" y="91" width="1" height="8" fill="#fff"/>
<rect x="399" y="91" width="1" height="8" fill="#fff"/>
<rect x="404" y="91" width="1" height="8" fill="#fff"/>
<rect x="408" y="91" width="1" height="8" fill="#fff"/>
<rect x="413" y="91" width="1" height="8" fill="#fff"/>
<rect x="418" y="91" width="1" height="8" fill="#fff"/>
<rect x="422" y="91" width="1" height="8" fill="#fff"/>
<rect x="427" y="91" width="1" height="8" fill="#fff"/>
<rect x="432" y="91" width="1" height="8" fill="#fff"/>
<rect x="441" y="91" width="1" height="8" fill="#fff"/>
<rect x="450" y="91" width="1" height="8" fill="#fff"/>
<rect x="459" y="91" width="1" height="8" fill="#fff"/>
<rect x="338" y="95" width="122" height="1" fill="#fff"/>
<rect x="561" y="70" width="16" height="10" fill="#000"/>
<rect x="562" y="71" width="1" height="8" fill="#fff"/>
<rect x="566" y="71" width="1" height="8" fill="#fff"/>
<rect x="571" y="71" width="1" height="8" fill="#fff"/>
<rect x="575" y="71" width="1" height="8" fill="#fff"/>
<rect x="562" y="74" width="14" height="1" fill="#fff"/>
<rect x="519" y="88" width="58" height="11" fill="#000"/>
<rect x="523" y="89" width="1" height="9" fill="#fff"/>
<rect x="533" y="89" width="1" height="9" fill="#fff"/>
<rect x="537" y="89" width="1" height="9" fill="#fff"/>
<rect x="542" y="89" width="1" height="9" fill="#fff"/>
<rect x="547" y="89" width="1" height="9" fill="#fff"/>
<rect x="551" y="89" width="1" height="9" fill="#fff"/>
<rect x="556" y="89" width="1" height="9" fill="#fff"/>
<rect x="561" y="89" width="1" height="9" fill="#fff"/>
<rect x="565" y="89" width="1" height="9" fill="#fff"/>
<rect x="570" y="89" width="1" height="9" fill="#fff"/>
<rect x="575" y="89" width="1" height="9" fill="#fff"/>
<rect x="520" y="93" width="56" height="1" fill="#fff"/>
<rect x="507" y="69" width="48" height="12" fill="#000"/>
<rect x="508" y="70" width="3" height="1" fill="#fff"/>
<rect x="508" y="79" width="3" height="1" fill="#fff"/>
<rect x="514" y="70" width="3" height="1" fill="#fff"/>
<rect x="514" y="79" width="3" height="1" fill="#fff"/>
<rect x="520" y="70" width="3" height="1" fill="#fff"/>
<rect x="520" y="79" width="3" height="1" fill="#fff"/>
<rect x="526" y="70" width="3" height="1" fill="#fff"/>
<rect x="526" y="79" width="3" height="1" fill="#fff"/>
<rect x="532" y="70" width="3" height="1" fill="#fff"/>
<rect x="532" y="79" width="3" height="1" fill="#fff"/>
<rect x="538" y="70" width="3" height="1" fill="#fff"/>
<rect x="538" y="79" width="3" height="1" fill="#fff"/>
<rect x="544" y="70" width="3" height="1" fill="#fff"/>
<rect x="544" y="79" width="3" height="1" fill="#fff"/>
<rect x="550" y="70" width="3" height="1" fill="#fff"/>
<rect x="550" y="79" width="3" height="1" fill="#fff"/>
<rect x="291" y="423" width="96" height="11" fill="#000"/>
<rect x="292" y="424" width="1" height="9" fill="#fff"/>
<rect x="296" y="424" width="1" height="9" fill="#fff"/>
<rect x="301" y="424" width="1" height="9" fill="#fff"/>
<rect x="306" y="424" width="1" height="9" fill="#fff"/>
<rect x="315" y="424" width="1" height="9" fill="#fff"/>
<rect x="320" y="424" width="1" height="9" fill="#fff"/>
<rect x="324" y="424" width="1" height="9" fill="#fff"/>
<rect x="329" y="424" width="1" height="9" fill="#fff"/>
<rect x="333" y="424" width="1" height="9" fill="#fff"/>
<rect x="338" y="424" width="1" height="9" fill="#fff"/>
<rect x="343" y="424" width="1" height="9" fill="#fff"/>
<rect x="347" y="424" width="1" height="9" fill="#fff"/>
<rect x="352" y="424" width="1" height="9" fill="#fff"/>
<rect x="357" y="424" width="1" height="9" fill="#fff"/>
<rect x="361" y="424" width="1" height="9" fill="#fff"/>
<rect x="366" y="424" width="1" height="9" fill="#fff"/>
<rect x="371" y="424" width="1" height="9" fill="#fff"/>
<rect x="375" y="424" width="1" height="9" fill="#fff"/>
<rect x="380" y="424" width="1" height="9" fill="#fff"/>
<rect x="384" y="424" width="1" height="9" fill="#fff"/>
<rect x="292" y="424" width="94" height="1" fill="#fff"/>
<rect x="292" y="428" width="94" height="1" fill="#fff"/>
<rect x="291" y="437" width="95" height="11" fill="#000"/>
<rect x="292" y="438" width="1" height="9" fill="#fff"/>
<rect x="296" y="438" width="1" height="9" fill="#fff"/>
<rect x="301" y="438" width="1" height="9" fill="#fff"/>
<rect x="310" y="438" width="1" height="9" fill="#fff"/>
<rect x="315" y="438" width="1" height="9" fill="#fff"/>
<rect x="319" y="438" width="1" height="9" fill="#fff"/>
<rect x="324" y="438" width="1" height="9" fill="#fff"/>
<rect x="329" y="438" width="1" height="9" fill="#fff"/>
<rect x="333" y="438" width="1" height="9" fill="#fff"/>
<rect x="338" y="438" width="1" height="9" fill="#fff"/>
<rect x="342" y="438" width="1" height="9" fill="#fff"/>
<rect x="347" y="438" width="1" height="9" fill="#fff"/>
<rect x="352" y="438" width="1" height="9" fill="#fff"/>
<rect x="356" y="438" width="1" height="9" fill="#fff"/>
<rect x="361" y="438" width="1" height="9" fill="#fff"/>
<rect x="366" y="438" width="1" height="9" fill="#fff"/>
<rect x="370" y="438" width="1" height="9" fill="#fff"/>
<rect x="375" y="438" width="1" height="9" fill="#fff"/>
<rect x="379" y="438" width="1" height="9" fill="#fff"/>
<rect x="384" y="438" width="1" height="9" fill="#fff"/>
<rect x="292" y="442" width="93" height="1" fill="#fff"/>
<rect x="292" y="446" width="93" height="1" fill="#fff"/>
<rect x="349" y="407" width="83" height="11" fill="#000"/>
<rect x="350" y="408" width="1" height="9" fill="#fff"/>
<rect x="355" y="408" width="1" height="9" fill="#fff"/>
<rect x="359" y="408" width="1" height="9" fill="#fff"/>
<rect x="364" y="408" width="1" height="9" fill="#fff"/>
<rect x="369" y="408" width="1" height="9" fill="#fff"/>
<rect x="373" y="408" width="1" height="9" fill="#fff"/>
<rect x="378" y="408" width="1" height="9" fill="#fff"/>
<rect x="383" y="408" width="1" height="9" fill="#fff"/>
<rect x="387" y="408" width="1" height="9" fill="#fff"/>
<rect x="392" y="408" width="1" height="9" fill="#fff"/>
<rect x="396" y="408" width="1" height="9" fill="#fff"/>
<rect x="401" y="408" width="1" height="9" fill="#fff"/>
<rect x="406" y="408" width="1" height="9" fill="#fff"/>
<rect x="410" y="408" width="1" height="9" fill="#fff"/>
<rect x="415" y="408" width="1" height="9" fill="#fff"/>
<rect x="420" y="408" width="1" height="9" fill="#fff"/>
<rect x="424" y="408" width="1" height="9" fill="#fff"/>
<rect x="429" y="408" width="1" height="9" fill="#fff"/>
<rect x="350" y="412" width="81" height="1" fill="#fff"/>
<rect x="350" y="416" width="81" height="1" fill="#fff"/>
<rect x="324" y="78" width="11" height="5" fill="#000"/>
<rect x="325" y="79" width="9" height="3" fill="#fff"/>
<rect x="585" y="111" width="11" height="6" fill="#000"/>
<rect x="586" y="112" width="9" height="4" fill="#fff"/>
<rect x="585" y="121" width="11" height="6" fill="#000"/>
<rect x="586" y="122" width="9" height="4" fill="#fff"/>
<rect x="296" y="316" width="11" height="6" fill="#000"/>
<rect x="297" y="317" width="9" height="4" fill="#fff"/>
<rect x="350" y="394" width="11" height="6" fill="#000"/>
<rect x="351" y="395" width="9" height="4" fill="#fff"/>
<rect x="55" y="275" width="6" height="15" fill="#000"/>
<rect x="56" y="280" width="4" height="1" fill="#fff"/>
<rect x="55" y="294" width="21" height="5" fill="#000"/>
<rect x="56" y="295" width="1.8" height="3" fill="#fff" shape-rendering="geometricPrecision"/>
<rect x="60.42" y="295" width="1.8" height="3" fill="#fff" shape-rendering="geometricPrecision"/>
<rect x="64.84" y="295" width="1.8" height="3" fill="#fff" shape-rendering="geometricPrecision"/>
<rect x="69.26" y="295" width="1.8" height="3" fill="#fff" shape-rendering="geometricPrecision"/>
<rect x="73.68" y="295" width="1.8" height="3" fill="#fff" shape-rendering="geometricPrecision"/>
<rect x="53" y="318" width="11" height="25" fill="#000"/>
<rect x="54" y="319" width="9" height="1" fill="#fff"/>
<rect x="54" y="324" width="9" height="1" fill="#fff"/>
<rect x="54" y="328" width="9" height="1" fill="#fff"/>
<rect x="54" y="333" width="9" height="1" fill="#fff"/>
<rect x="54" y="337" width="9" height="1" fill="#fff"/>
<rect x="58" y="319" width="1" height="23" fill="#fff"/>
<rect x="62" y="319" width="1" height="23" fill="#fff"/>
<rect x="53" y="347" width="7" height="62" fill="#000"/>
<rect x="54" y="348" width="1" height="60" fill="#fff"/>
<rect x="55" y="352" width="4" height="1" fill="#fff"/>
<rect x="55" y="362" width="4" height="1" fill="#fff"/>
<rect x="55" y="366" width="4" height="1" fill="#fff"/>
<rect x="55" y="371" width="4" height="1" fill="#fff"/>
<rect x="55" y="376" width="4" height="1" fill="#fff"/>
<rect x="55" y="380" width="4" height="1" fill="#fff"/>
<rect x="55" y="385" width="4" height="1" fill="#fff"/>
<rect x="55" y="390" width="4" height="1" fill="#fff"/>
<rect x="55" y="394" width="4" height="1" fill="#fff"/>
<rect x="55" y="399" width="4" height="1" fill="#fff"/>
<rect x="55" y="404" width="4" height="1" fill="#fff"/>
<rect x="55" y="408" width="4" height="1" fill="#fff"/>
<rect x="51" y="416" width="6" height="35" fill="#000"/>
<rect x="52" y="421" width="4" height="1" fill="#fff"/>
<rect x="52" y="426" width="4" height="1" fill="#fff"/>
<rect x="52" y="431" width="4" height="1" fill="#fff"/>
<rect x="52" y="435" width="4" height="1" fill="#fff"/>
<rect x="52" y="445" width="4" height="1" fill="#fff"/>
<rect x="52" y="449" width="4" height="1" fill="#fff"/>
<rect x="64" y="395" width="222" height="26" fill="#000"/>
<rect x="65" y="396" width="5" height="2" fill="#fff"/>
<rect x="65" y="399" width="5" height="3" fill="#fff"/>
<rect x="65" y="403" width="5" height="4" fill="#fff"/>
<rect x="65" y="409" width="5" height="2" fill="#fff"/>
<rect x="65" y="412" width="5" height="3" fill="#fff"/>
<rect x="65" y="416" width="5" height="4" fill="#fff"/>
<rect x="280" y="396" width="5" height="2" fill="#fff"/>
<rect x="280" y="399" width="5" height="3" fill="#fff"/>
<rect x="280" y="403" width="5" height="4" fill="#fff"/>
<rect x="280" y="409" width="5" height="2" fill="#fff"/>
<rect x="280" y="412" width="5" height="3" fill="#fff"/>
<rect x="280" y="416" width="5" height="4" fill="#fff"/>
<rect x="74" y="396" width="204" height="1" fill="#fff"/>
<rect x="81" y="397" width="1" height="9" fill="#fff"/>
<rect x="269" y="397" width="1" height="9" fill="#fff"/>
<rect x="82" y="406" width="187" height="1" fill="#fff"/>
<rect x="74" y="398" width="6" height="5" fill="#fff"/>
<rect x="74" y="404" width="5" height="2" fill="#fff"/>
<rect x="80" y="404" width="3" height="3" fill="#fff"/>
<rect x="271" y="398" width="6" height="5" fill="#fff"/>
<rect x="271" y="399" width="5" height="2" fill="#000"/>
<rect x="272" y="404" width="5" height="2" fill="#fff"/>
<rect x="268" y="404" width="3" height="3" fill="#fff"/>
<rect x="85" y="399" width="1" height="3" fill="#fff"/>
<rect x="87" y="399" width="1" height="3" fill="#fff"/>
<rect x="89" y="399" width="1" height="3" fill="#fff"/>
<rect x="91" y="399" width="1" height="3" fill="#fff"/>
<rect x="100" y="399" width="1" height="3" fill="#fff"/>
<rect x="102" y="399" width="1" height="3" fill="#fff"/>
<rect x="104" y="399" width="1" height="3" fill="#fff"/>
<rect x="106" y="399" width="1" height="3" fill="#fff"/>
<rect x="108" y="399" width="1" height="3" fill="#fff"/>
<rect x="117" y="399" width="1" height="3" fill="#fff"/>
<rect x="119" y="399" width="1" height="3" fill="#fff"/>
<rect x="121" y="399" width="1" height="3" fill="#fff"/>
<rect x="123" y="399" width="1" height="3" fill="#fff"/>
<rect x="130" y="399" width="1" height="3" fill="#fff"/>
<rect x="132" y="399" width="1" height="3" fill="#fff"/>
<rect x="134" y="399" width="1" height="3" fill="#fff"/>
<rect x="136" y="399" width="1" height="3" fill="#fff"/>
<rect x="138" y="399" width="1" height="3" fill="#fff"/>
<rect x="140" y="399" width="1" height="3" fill="#fff"/>
<rect x="147" y="399" width="1" height="3" fill="#fff"/>
<rect x="149" y="399" width="1" height="3" fill="#fff"/>
<rect x="151" y="399" width="1" height="3" fill="#fff"/>
<rect x="153" y="399" width="1" height="3" fill="#fff"/>
<rect x="162" y="399" width="1" height="3" fill="#fff"/>
<rect x="164" y="399" width="1" height="3" fill="#fff"/>
<rect x="166" y="399" width="1" height="3" fill="#fff"/>
<rect x="168" y="399" width="1" height="3" fill="#fff"/>
<rect x="183" y="399" width="1" height="3" fill="#fff"/>
<rect x="185" y="399" width="1" height="3" fill="#fff"/>
<rect x="187" y="399" width="1" height="3" fill="#fff"/>
<rect x="189" y="399" width="1" height="3" fill="#fff"/>
<rect x="191" y="399" width="1" height="3" fill="#fff"/>
<rect x="198" y="399" width="1" height="3" fill="#fff"/>
<rect x="200" y="399" width="1" height="3" fill="#fff"/>
<rect x="202" y="399" width="1" height="3" fill="#fff"/>
<rect x="204" y="399" width="1" height="3" fill="#fff"/>
<rect x="206" y="399" width="1" height="3" fill="#fff"/>
<rect x="213" y="399" width="1" height="3" fill="#fff"/>
<rect x="215" y="399" width="1" height="3" fill="#fff"/>
<rect x="217" y="399" width="1" height="3" fill="#fff"/>
<rect x="219" y="399" width="1" height="3" fill="#fff"/>
<rect x="226" y="399" width="1" height="3" fill="#fff"/>
<rect x="228" y="399" width="1" height="3" fill="#fff"/>
<rect x="230" y="399" width="1" height="3" fill="#fff"/>
<rect x="232" y="399" width="1" height="3" fill="#fff"/>
<rect x="234" y="399" width="1" height="3" fill="#fff"/>
<rect x="236" y="399" width="1" height="3" fill="#fff"/>
<rect x="238" y="399" width="1" height="3" fill="#fff"/>
<rect x="241" y="399" width="1" height="3" fill="#fff"/>
<rect x="243" y="399" width="1" height="3" fill="#fff"/>
<rect x="245" y="399" width="1" height="3" fill="#fff"/>
<rect x="247" y="399" width="1" height="3" fill="#fff"/>
<rect x="249" y="399" width="1" height="3" fill="#fff"/>
<rect x="251" y="399" width="1" height="3" fill="#fff"/>
<rect x="258" y="399" width="1" height="3" fill="#fff"/>
<rect x="260" y="399" width="1" height="3" fill="#fff"/>
<rect x="262" y="399" width="1" height="3" fill="#fff"/>
<rect x="71" y="409" width="207" height="1" fill="#fff"/>
<rect x="81" y="410" width="1" height="10" fill="#fff"/>
<rect x="269" y="410" width="1" height="10" fill="#fff"/>
<rect x="74" y="411" width="6" height="5" fill="#fff"/>
<rect x="74" y="417" width="5" height="2" fill="#fff"/>
<rect x="80" y="417" width="3" height="3" fill="#fff"/>
<rect x="271" y="411" width="6" height="5" fill="#fff"/>
<rect x="271" y="412" width="5" height="2" fill="#000"/>
<rect x="272" y="417" width="5" height="2" fill="#fff"/>
<rect x="268" y="417" width="3" height="3" fill="#fff"/>
<rect x="85" y="412" width="1" height="3" fill="#fff"/>
<rect x="87" y="412" width="1" height="3" fill="#fff"/>
<rect x="89" y="412" width="1" height="3" fill="#fff"/>
<rect x="91" y="412" width="1" height="3" fill="#fff"/>
<rect x="100" y="412" width="1" height="3" fill="#fff"/>
<rect x="102" y="412" width="1" height="3" fill="#fff"/>
<rect x="104" y="412" width="1" height="3" fill="#fff"/>
<rect x="106" y="412" width="1" height="3" fill="#fff"/>
<rect x="108" y="412" width="1" height="3" fill="#fff"/>
<rect x="117" y="412" width="1" height="3" fill="#fff"/>
<rect x="119" y="412" width="1" height="3" fill="#fff"/>
<rect x="121" y="412" width="1" height="3" fill="#fff"/>
<rect x="123" y="412" width="1" height="3" fill="#fff"/>
<rect x="130" y="412" width="1" height="3" fill="#fff"/>
<rect x="132" y="412" width="1" height="3" fill="#fff"/>
<rect x="134" y="412" width="1" height="3" fill="#fff"/>
<rect x="136" y="412" width="1" height="3" fill="#fff"/>
<rect x="138" y="412" width="1" height="3" fill="#fff"/>
<rect x="140" y="412" width="1" height="3" fill="#fff"/>
<rect x="147" y="412" width="1" height="3" fill="#fff"/>
<rect x="149" y="412" width="1" height="3" fill="#fff"/>
<rect x="151" y="412" width="1" height="3" fill="#fff"/>
<rect x="153" y="412" width="1" height="3" fill="#fff"/>
<rect x="162" y="412" width="1" height="3" fill="#fff"/>
<rect x="164" y="412" width="1" height="3" fill="#fff"/>
<rect x="166" y="412" width="1" height="3" fill="#fff"/>
<rect x="168" y="412" width="1" height="3" fill="#fff"/>
<rect x="183" y="412" width="1" height="3" fill="#fff"/>
<rect x="185" y="412" width="1" height="3" fill="#fff"/>
<rect x="187" y="412" width="1" height="3" fill="#fff"/>
<rect x="189" y="412" width="1" height="3" fill="#fff"/>
<rect x="191" y="412" width="1" height="3" fill="#fff"/>
<rect x="198" y="412" width="1" height="3" fill="#fff"/>
<rect x="200" y="412" width="1" height="3" fill="#fff"/>
<rect x="202" y="412" width="1" height="3" fill="#fff"/>
<rect x="204" y="412" width="1" height="3" fill="#fff"/>
<rect x="206" y="412" width="1" height="3" fill="#fff"/>
<rect x="213" y="412" width="1" height="3" fill="#fff"/>
<rect x="215" y="412" width="1" height="3" fill="#fff"/>
<rect x="217" y="412" width="1" height="3" fill="#fff"/>
<rect x="219" y="412" width="1" height="3" fill="#fff"/>
<rect x="226" y="412" width="1" height="3" fill="#fff"/>
<rect x="228" y="412" width="1" height="3" fill="#fff"/>
<rect x="230" y="412" width="1" height="3" fill="#fff"/>
<rect x="232" y="412" width="1" height="3" fill="#fff"/>
<rect x="234" y="412" width="1" height="3" fill="#fff"/>
<rect x="236" y="412" width="1" height="3" fill="#fff"/>
<rect x="238" y="412" width="1" height="3" fill="#fff"/>
<rect x="241" y="412" width="1" height="3" fill="#fff"/>
<rect x="243" y="412" width="1" height="3" fill="#fff"/>
<rect x="245" y="412" width="1" height="3" fill="#fff"/>
<rect x="247" y="412" width="1" height="3" fill="#fff"/>
<rect x="249" y="412" width="1" height="3" fill="#fff"/>
<rect x="251" y="412" width="1" height="3" fill="#fff"/>
<rect x="258" y="412" width="1" height="3" fill="#fff"/>
<rect x="260" y="412" width="1" height="3" fill="#fff"/>
<rect x="262" y="412" width="1" height="3" fill="#fff"/>
<rect x="171" y="397" width="7" height="3" fill="#fff"/>
<rect x="171" y="416" width="7" height="4" fill="#fff"/>
<rect x="64" y="422" width="222" height="26" fill="#000"/>
<rect x="65" y="423" width="5" height="2" fill="#fff"/>
<rect x="65" y="426" width="5" height="3" fill="#fff"/>
<rect x="65" y="430" width="5" height="4" fill="#fff"/>
<rect x="65" y="436" width="5" height="2" fill="#fff"/>
<rect x="65" y="439" width="5" height="3" fill="#fff"/>
<rect x="65" y="443" width="5" height="4" fill="#fff"/>
<rect x="280" y="423" width="5" height="2" fill="#fff"/>
<rect x="280" y="426" width="5" height="3" fill="#fff"/>
<rect x="280" y="430" width="5" height="4" fill="#fff"/>
<rect x="280" y="436" width="5" height="2" fill="#fff"/>
<rect x="280" y="439" width="5" height="3" fill="#fff"/>
<rect x="280" y="443" width="5" height="4" fill="#fff"/>
<rect x="74" y="423" width="204" height="1" fill="#fff"/>
<rect x="81" y="424" width="1" height="9" fill="#fff"/>
<rect x="269" y="424" width="1" height="9" fill="#fff"/>
<rect x="82" y="433" width="187" height="1" fill="#fff"/>
<rect x="74" y="425" width="6" height="5" fill="#fff"/>
<rect x="74" y="431" width="5" height="2" fill="#fff"/>
<rect x="80" y="431" width="3" height="3" fill="#fff"/>
<rect x="271" y="425" width="6" height="5" fill="#fff"/>
<rect x="271" y="426" width="5" height="2" fill="#000"/>
<rect x="272" y="431" width="5" height="2" fill="#fff"/>
<rect x="268" y="431" width="3" height="3" fill="#fff"/>
<rect x="85" y="426" width="1" height="3" fill="#fff"/>
<rect x="87" y="426" width="1" height="3" fill="#fff"/>
<rect x="89" y="426" width="1" height="3" fill="#fff"/>
<rect x="91" y="426" width="1" height="3" fill="#fff"/>
<rect x="100" y="426" width="1" height="3" fill="#fff"/>
<rect x="102" y="426" width="1" height="3" fill="#fff"/>
<rect x="104" y="426" width="1" height="3" fill="#fff"/>
<rect x="106" y="426" width="1" height="3" fill="#fff"/>
<rect x="108" y="426" width="1" height="3" fill="#fff"/>
<rect x="117" y="426" width="1" height="3" fill="#fff"/>
<rect x="119" y="426" width="1" height="3" fill="#fff"/>
<rect x="121" y="426" width="1" height="3" fill="#fff"/>
<rect x="123" y="426" width="1" height="3" fill="#fff"/>
<rect x="130" y="426" width="1" height="3" fill="#fff"/>
<rect x="132" y="426" width="1" height="3" fill="#fff"/>
<rect x="134" y="426" width="1" height="3" fill="#fff"/>
<rect x="136" y="426" width="1" height="3" fill="#fff"/>
<rect x="138" y="426" width="1" height="3" fill="#fff"/>
<rect x="140" y="426" width="1" height="3" fill="#fff"/>
<rect x="147" y="426" width="1" height="3" fill="#fff"/>
<rect x="149" y="426" width="1" height="3" fill="#fff"/>
<rect x="151" y="426" width="1" height="3" fill="#fff"/>
<rect x="153" y="426" width="1" height="3" fill="#fff"/>
<rect x="162" y="426" width="1" height="3" fill="#fff"/>
<rect x="164" y="426" width="1" height="3" fill="#fff"/>
<rect x="166" y="426" width="1" height="3" fill="#fff"/>
<rect x="168" y="426" width="1" height="3" fill="#fff"/>
<rect x="183" y="426" width="1" height="3" fill="#fff"/>
<rect x="185" y="426" width="1" height="3" fill="#fff"/>
<rect x="187" y="426" width="1" height="3" fill="#fff"/>
<rect x="189" y="426" width="1" height="3" fill="#fff"/>
<rect x="191" y="426" width="1" height="3" fill="#fff"/>
<rect x="198" y="426" width="1" height="3" fill="#fff"/>
<rect x="200" y="426" width="1" height="3" fill="#fff"/>
<rect x="202" y="426" width="1" height="3" fill="#fff"/>
<rect x="204" y="426" width="1" height="3" fill="#fff"/>
<rect x="206" y="426" width="1" height="3" fill="#fff"/>
<rect x="213" y="426" width="1" height="3" fill="#fff"/>
<rect x="215" y="426" width="1" height="3" fill="#fff"/>
<rect x="217" y="426" width="1" height="3" fill="#fff"/>
<rect x="219" y="426" width="1" height="3" fill="#fff"/>
<rect x="226" y="426" width="1" height="3" fill="#fff"/>
<rect x="228" y="426" width="1" height="3" fill="#fff"/>
<rect x="230" y="426" width="1" height="3" fill="#fff"/>
<rect x="232" y="426" width="1" height="3" fill="#fff"/>
<rect x="234" y="426" width="1" height="3" fill="#fff"/>
<rect x="236" y="426" width="1" height="3" fill="#fff"/>
<rect x="238" y="426" width="1" height="3" fill="#fff"/>
<rect x="241" y="426" width="1" height="3" fill="#fff"/>
<rect x="243" y="426" width="1" height="3" fill="#fff"/>
<rect x="245" y="426" width="1" height="3" fill="#fff"/>
<rect x="247" y="426" width="1" height="3" fill="#fff"/>
<rect x="249" y="426" width="1" height="3" fill="#fff"/>
<rect x="251" y="426" width="1" height="3" fill="#fff"/>
<rect x="258" y="426" width="1" height="3" fill="#fff"/>
<rect x="260" y="426" width="1" height="3" fill="#fff"/>
<rect x="262" y="426" width="1" height="3" fill="#fff"/>
<rect x="71" y="436" width="207" height="1" fill="#fff"/>
<rect x="81" y="437" width="1" height="10" fill="#fff"/>
<rect x="269" y="437" width="1" height="10" fill="#fff"/>
<rect x="74" y="438" width="6" height="5" fill="#fff"/>
<rect x="74" y="444" width="5" height="2" fill="#fff"/>
<rect x="80" y="444" width="3" height="3" fill="#fff"/>
<rect x="271" y="438" width="6" height="5" fill="#fff"/>
<rect x="271" y="439" width="5" height="2" fill="#000"/>
<rect x="272" y="444" width="5" height="2" fill="#fff"/>
<rect x="268" y="444" width="3" height="3" fill="#fff"/>
<rect x="85" y="439" width="1" height="3" fill="#fff"/>
<rect x="87" y="439" width="1" height="3" fill="#fff"/>
<rect x="89" y="439" width="1" height="3" fill="#fff"/>
<rect x="91" y="439" width="1" height="3" fill="#fff"/>
<rect x="100" y="439" width="1" height="3" fill="#fff"/>
<rect x="102" y="439" width="1" height="3" fill="#fff"/>
<rect x="104" y="439" width="1" height="3" fill="#fff"/>
<rect x="106" y="439" width="1" height="3" fill="#fff"/>
<rect x="108" y="439" width="1" height="3" fill="#fff"/>
<rect x="117" y="439" width="1" height="3" fill="#fff"/>
<rect x="119" y="439" width="1" height="3" fill="#fff"/>
<rect x="121" y="439" width="1" height="3" fill="#fff"/>
<rect x="123" y="439" width="1" height="3" fill="#fff"/>
<rect x="130" y="439" width="1" height="3" fill="#fff"/>
<rect x="132" y="439" width="1" height="3" fill="#fff"/>
<rect x="134" y="439" width="1" height="3" fill="#fff"/>
<rect x="136" y="439" width="1" height="3" fill="#fff"/>
<rect x="138" y="439" width="1" height="3" fill="#fff"/>
<rect x="140" y="439" width="1" height="3" fill="#fff"/>
<rect x="147" y="439" width="1" height="3" fill="#fff"/>
<rect x="149" y="439" width="1" height="3" fill="#fff"/>
<rect x="151" y="439" width="1" height="3" fill="#fff"/>
<rect x="153" y="439" width="1" height="3" fill="#fff"/>
<rect x="162" y="439" width="1" height="3" fill="#fff"/>
<rect x="164" y="439" width="1" height="3" fill="#fff"/>
<rect x="166" y="439" width="1" height="3" fill="#fff"/>
<rect x="168" y="439" width="1" height="3" fill="#fff"/>
<rect x="183" y="439" width="1" height="3" fill="#fff"/>
<rect x="185" y="439" width="1" height="3" fill="#fff"/>
<rect x="187" y="439" width="1" height="3" fill="#fff"/>
<rect x="189" y="439" width="1" height="3" fill="#fff"/>
<rect x="191" y="439" width="1" height="3" fill="#fff"/>
<rect x="198" y="439" width="1" height="3" fill="#fff"/>
<rect x="200" y="439" width="1" height="3" fill="#fff"/>
<rect x="202" y="439" width="1" height="3" fill="#fff"/>
<rect x="204" y="439" width="1" height="3" fill="#fff"/>
<rect x="206" y="439" width="1" height="3" fill="#fff"/>
<rect x="213" y="439" width="1" height="3" fill="#fff"/>
<rect x="215" y="439" width="1" height="3" fill="#fff"/>
<rect x="217" y="439" width="1" height="3" fill="#fff"/>
<rect x="219" y="439" width="1" height="3" fill="#fff"/>
<rect x="226" y="439" width="1" height="3" fill="#fff"/>
<rect x="228" y="439" width="1" height="3" fill="#fff"/>
<rect x="230" y="439" width="1" height="3" fill="#fff"/>
<rect x="232" y="439" width="1" height="3" fill="#fff"/>
<rect x="234" y="439" width="1" height="3" fill="#fff"/>
<rect x="236" y="439" width="1" height="3" fill="#fff"/>
<rect x="238" y="439" width="1" height="3" fill="#fff"/>
<rect x="241" y="439" width="1" height="3" fill="#fff"/>
<rect x="243" y="439" width="1" height="3" fill="#fff"/>
<rect x="245" y="439" width="1" height="3" fill="#fff"/>
<rect x="247" y="439" width="1" height="3" fill="#fff"/>
<rect x="249" y="439" width="1" height="3" fill="#fff"/>
<rect x="251" y="439" width="1" height="3" fill="#fff"/>
<rect x="258" y="439" width="1" height="3" fill="#fff"/>
<rect x="260" y="439" width="1" height="3" fill="#fff"/>
<rect x="262" y="439" width="1" height="3" fill="#fff"/>
<rect x="171" y="424" width="7" height="3" fill="#fff"/>
<rect x="171" y="443" width="7" height="4" fill="#fff"/>
<rect x="64" y="421" width="222" height="1" fill="#fff"/>
<rect x="435" y="375" width="20" height="90" fill="#000"/>
<rect x="436" y="376" width="18" height="88" fill="#fff"/>
<rect x="441" y="375" width="2" height="1" fill="#fff"/>
<rect x="438" y="380" width="6" height="6" fill="#000"/>
<rect x="439" y="381" width="4" height="4" fill="#fff"/>
<rect x="445" y="380" width="2" height="6" fill="#000"/>
<circle cx="451" cy="383.2" r="2.2" fill="#000" shape-rendering="geometricPrecision"/>
<rect x="438" y="388" width="6" height="6" fill="#000"/>
<rect x="439" y="389" width="4" height="4" fill="#fff"/>
<rect x="445" y="388" width="2" height="6" fill="#000"/>
<circle cx="451" cy="391.2" r="2.2" fill="#000" shape-rendering="geometricPrecision"/>
<rect x="438" y="395" width="6" height="6" fill="#000"/>
<rect x="439" y="396" width="4" height="4" fill="#fff"/>
<rect x="445" y="395" width="2" height="6" fill="#000"/>
<circle cx="451" cy="398.2" r="2.2" fill="#000" shape-rendering="geometricPrecision"/>
<rect x="438" y="403" width="6" height="6" fill="#000"/>
<rect x="439" y="404" width="4" height="4" fill="#fff"/>
<rect x="445" y="403" width="2" height="6" fill="#000"/>
<circle cx="451" cy="406.2" r="2.2" fill="#000" shape-rendering="geometricPrecision"/>
<rect x="438" y="410" width="6" height="6" fill="#000"/>
<rect x="439" y="411" width="4" height="4" fill="#fff"/>
<rect x="445" y="410" width="2" height="6" fill="#000"/>
<circle cx="451" cy="413.2" r="2.2" fill="#000" shape-rendering="geometricPrecision"/>
<rect x="438" y="418" width="6" height="6" fill="#000"/>
<rect x="439" y="419" width="4" height="4" fill="#fff"/>
<rect x="445" y="418" width="2" height="6" fill="#000"/>
<circle cx="451" cy="421.2" r="2.2" fill="#000" shape-rendering="geometricPrecision"/>
<rect x="438" y="425" width="6" height="6" fill="#000"/>
<rect x="439" y="426" width="4" height="4" fill="#fff"/>
<rect x="445" y="425" width="2" height="6" fill="#000"/>
<circle cx="451" cy="428.2" r="2.2" fill="#000" shape-rendering="geometricPrecision"/>
<rect x="438" y="433" width="6" height="6" fill="#000"/>
<rect x="439" y="434" width="4" height="4" fill="#fff"/>
<rect x="445" y="433" width="2" height="6" fill="#000"/>
<circle cx="451" cy="436.2" r="2.2" fill="#000" shape-rendering="geometricPrecision"/>
<rect x="438" y="440" width="6" height="6" fill="#000"/>
<rect x="439" y="441" width="4" height="4" fill="#fff"/>
<rect x="445" y="440" width="2" height="6" fill="#000"/>
<circle cx="451" cy="443.2" r="2.2" fill="#000" shape-rendering="geometricPrecision"/>
<rect x="438" y="448" width="6" height="6" fill="#000"/>
<rect x="439" y="449" width="4" height="4" fill="#fff"/>
<rect x="445" y="448" width="2" height="6" fill="#000"/>
<circle cx="451" cy="451.2" r="2.2" fill="#000" shape-rendering="geometricPrecision"/>
<rect x="438" y="455" width="6" height="6" fill="#000"/>
<rect x="439" y="456" width="4" height="4" fill="#fff"/>
<rect x="445" y="455" width="2" height="6" fill="#000"/>
<circle cx="451" cy="458.2" r="2.2" fill="#000" shape-rendering="geometricPrecision"/>
<rect x="449" y="379" width="1" height="84" fill="#000"/>
<rect x="459" y="395" width="11" height="61" fill="#000"/>
<rect x="460" y="396" width="9" height="59" fill="#fff"/>
<rect x="459" y="459" width="11" height="5" fill="#000"/>
<rect x="460" y="460" width="9" height="3" fill="#fff"/>
<rect x="633" y="62" width="4" height="54" fill="#000"/>
<rect x="609" y="71" width="28" height="36" fill="#000"/>
<rect x="636" y="72" width="14" height="33" fill="#000"/>
<rect x="637" y="73" width="12" height="31" fill="#fff"/>
<rect x="630" y="65" width="15" height="5" fill="#000"/>
<rect x="631" y="66" width="13" height="3" fill="#fff"/>
<rect x="633" y="65" width="4" height="5" fill="#000"/>
<rect x="630" y="108" width="15" height="5" fill="#000"/>
<rect x="631" y="109" width="13" height="3" fill="#fff"/>
<rect x="633" y="108" width="4" height="5" fill="#000"/>
<rect x="633" y="120" width="5" height="29" fill="#000"/>
<rect x="633" y="152" width="5" height="28" fill="#000"/>
<rect x="633" y="182" width="5" height="29" fill="#000"/>
<rect x="614" y="126" width="29" height="17" fill="#000"/>
<rect x="614" y="157" width="29" height="18" fill="#000"/>
<rect x="614" y="187" width="29" height="18" fill="#000"/>
<rect x="634" y="216" width="3" height="92" fill="#000"/>
<rect x="614" y="225" width="23" height="73" fill="#000"/>
<rect x="638" y="216" width="1" height="92" fill="#000"/>
<path d="M639.5 225.5 L647 225.5 Q649.5 225.5 649.5 229 L649.5 293 Q649.5 296.5 647 296.5 L639.5 296.5" fill="none" stroke="#000" stroke-width="1" shape-rendering="geometricPrecision"/>
<rect x="630" y="218" width="15" height="5" fill="#000"/>
<rect x="631" y="219" width="13" height="3" fill="#fff"/>
<rect x="634" y="218" width="3" height="5" fill="#000"/>
<rect x="638" y="218" width="2" height="5" fill="#000"/>
<rect x="630" y="300" width="15" height="5" fill="#000"/>
<rect x="631" y="301" width="13" height="3" fill="#fff"/>
<rect x="634" y="300" width="3" height="5" fill="#000"/>
<rect x="638" y="300" width="2" height="5" fill="#000"/>
<rect x="634" y="309" width="5" height="53" fill="#000"/>
<rect x="611" y="318" width="28" height="36" fill="#000"/>
<rect x="638" y="318" width="14" height="33" fill="#000"/>
<rect x="639" y="319" width="12" height="31" fill="#fff"/>
<rect x="632" y="312" width="15" height="5" fill="#000"/>
<rect x="633" y="313" width="13" height="3" fill="#fff"/>
<rect x="632" y="312" width="7" height="5" fill="#000"/>
<rect x="632" y="355" width="15" height="5" fill="#000"/>
<rect x="633" y="356" width="13" height="3" fill="#fff"/>
<rect x="632" y="355" width="7" height="5" fill="#000"/>
<rect x="607" y="369" width="33" height="33" fill="#000"/>
<rect x="608" y="370" width="31" height="31" fill="#fff"/>
<rect x="633" y="369" width="7" height="33" fill="#000"/>
<rect x="613" y="416" width="20" height="30" fill="#000"/>
<rect x="611" y="421" width="2" height="20" fill="#000"/>
<rect x="633" y="413" width="2" height="37" fill="#000"/>
<rect x="635" y="411" width="3" height="40" fill="#000"/>
<rect x="608" y="423" width="4" height="7" fill="#000"/>
<rect x="609" y="424" width="2" height="5" fill="#fff"/>
<rect x="608" y="432" width="4" height="7" fill="#000"/>
<rect x="609" y="433" width="2" height="5" fill="#fff"/>
<rect x="612" y="429" width="2" height="4" fill="#fff"/>
<polygon points="515.28,33.59 524.78,69.59 529.22,68.41 519.72,32.41" fill="#000" shape-rendering="geometricPrecision"/>
<line x1="517.5" y1="33" x2="525.58" y2="63.6" stroke="#fff" stroke-width="1.1" stroke-linecap="butt" stroke-dasharray="1.2 1.5" shape-rendering="geometricPrecision"/>
<polygon points="511.98,47.87 521.48,69.87 525.52,68.13 516.02,46.13" fill="#000" shape-rendering="geometricPrecision"/>
<line x1="514" y1="47" x2="522.08" y2="65.7" stroke="#fff" stroke-width="1.1" stroke-linecap="butt" stroke-dasharray="1.2 1.5" shape-rendering="geometricPrecision"/>
<polygon points="510.37,63.13 517.37,70.13 519.63,67.87 512.63,60.87" fill="#000" shape-rendering="geometricPrecision"/>
<polygon points="545.28,20.4 532.28,68.4 536.72,69.6 549.72,21.6" fill="#000" shape-rendering="geometricPrecision"/>
<line x1="547.5" y1="21" x2="536.45" y2="61.8" stroke="#fff" stroke-width="1.1" stroke-linecap="butt" stroke-dasharray="1.2 1.5" shape-rendering="geometricPrecision"/>
<polygon points="548.81,35.3 538.31,68.3 542.69,69.7 553.19,36.7" fill="#000" shape-rendering="geometricPrecision"/>
<line x1="551" y1="36" x2="542.08" y2="64.05" stroke="#fff" stroke-width="1.1" stroke-linecap="butt" stroke-dasharray="1.2 1.5" shape-rendering="geometricPrecision"/>
<polygon points="560.37,48.67 544.87,67.67 548.13,70.33 563.63,51.33" fill="#000" shape-rendering="geometricPrecision"/>
<line x1="562" y1="50" x2="551.92" y2="62.35" stroke="#fff" stroke-width="0.8" stroke-linecap="butt" shape-rendering="geometricPrecision"/>
<polygon points="561.02,63.49 552.52,68.99 554.48,72.01 562.98,66.51" fill="#000" shape-rendering="geometricPrecision"/>
<line x1="562" y1="65" x2="556.48" y2="68.58" stroke="#fff" stroke-width="0.7" stroke-linecap="butt" shape-rendering="geometricPrecision"/>
<polygon points="504.13,88.13 511.63,80.63 509.37,78.37 501.87,85.87" fill="#000" shape-rendering="geometricPrecision"/>
<polygon points="519.67,108.1 527.67,99.6 525.33,97.4 517.33,105.9" fill="#000" shape-rendering="geometricPrecision"/>
<polygon points="578.99,131.12 587.49,123.62 585.51,121.38 577.01,128.88" fill="#000" shape-rendering="geometricPrecision"/>
<line x1="578" y1="130" x2="583.52" y2="125.12" stroke="#fff" stroke-width="0.7" stroke-linecap="butt" shape-rendering="geometricPrecision"/>
<rect x="429" y="41" width="33" height="15" fill="#000"/>
<rect x="428" y="42" width="35" height="13" fill="#000"/>
<rect x="430" y="43" width="31" height="11" fill="#fff"/>
<text x="445.5" y="52" font-size="10.67" fill="#000" text-anchor="middle" stroke="#000" stroke-width="0.12">CN25</text>
<polygon points="312,77.1 314,77.5 315.5,78.4 320,78.6 320.7,79.4 324,79.4 324,81.6 320.7,81.6 320,82.4 315.5,82.6 314,83.5 312,83.9" fill="#000" shape-rendering="geometricPrecision"/>
<rect x="280" y="73" width="32" height="15" fill="#000"/>
<rect x="279" y="74" width="34" height="13" fill="#000"/>
<rect x="281" y="75" width="30" height="11" fill="#fff"/>
<text x="297" y="84" font-size="10.67" fill="#000" text-anchor="middle" stroke="#000" stroke-width="0.12">CN22</text>
<polygon points="310,79.1 312.5,79.3 315,80.1 319,80.35 319,80.65 315,80.9 312.5,81.7 310,81.9" fill="#fff" shape-rendering="geometricPrecision"/>
<polygon points="326,91.6 328,92 329.5,92.9 333,93.1 333.7,93.9 337,93.9 337,96.1 333.7,96.1 333,96.9 329.5,97.1 328,98 326,98.4" fill="#000" shape-rendering="geometricPrecision"/>
<rect x="294" y="88" width="32" height="15" fill="#000"/>
<rect x="293" y="89" width="34" height="13" fill="#000"/>
<rect x="295" y="90" width="30" height="11" fill="#fff"/>
<text x="310" y="99" font-size="10.67" fill="#000" text-anchor="middle" stroke="#000" stroke-width="0.12">CN23</text>
<polygon points="324,93.6 326.5,93.8 329,94.6 332,94.85 332,95.15 329,95.4 326.5,96.2 324,96.4" fill="#fff" shape-rendering="geometricPrecision"/>
<polygon points="374,71.6 376,72 377.5,72.9 381,73.1 381.7,73.9 385,73.9 385,76.1 381.7,76.1 381,76.9 377.5,77.1 376,78 374,78.4" fill="#000" shape-rendering="geometricPrecision"/>
<rect x="341" y="68" width="33" height="15" fill="#000"/>
<rect x="340" y="69" width="35" height="13" fill="#000"/>
<rect x="342" y="70" width="31" height="11" fill="#fff"/>
<text x="357.5" y="79" font-size="10.67" fill="#000" text-anchor="middle" stroke="#000" stroke-width="0.12">CN24</text>
<polygon points="372,73.6 374.5,73.8 377,74.6 378,74.85 378,75.15 377,75.4 374.5,76.2 372,76.4" fill="#fff" shape-rendering="geometricPrecision"/>
<rect x="492" y="21" width="26" height="15" fill="#000"/>
<rect x="491" y="22" width="28" height="13" fill="#000"/>
<rect x="493" y="23" width="24" height="11" fill="#fff"/>
<text x="503.3" y="32" font-size="10.67" fill="#000" text-anchor="middle" stroke="#000" stroke-width="0.12">FLP</text>
<rect x="488" y="35" width="27" height="15" fill="#000"/>
<rect x="487" y="36" width="29" height="13" fill="#000"/>
<rect x="489" y="37" width="25" height="11" fill="#fff"/>
<text x="500.5" y="46" font-size="10.67" fill="#000" text-anchor="middle" stroke="#000" stroke-width="0.12">SKP</text>
<rect x="485" y="50" width="27" height="15" fill="#000"/>
<rect x="484" y="51" width="29" height="13" fill="#000"/>
<rect x="486" y="52" width="25" height="11" fill="#fff"/>
<text x="498.5" y="61" font-size="10.67" fill="#000" text-anchor="middle" stroke="#000" stroke-width="0.12">RCV</text>
<rect x="547" y="7" width="26" height="16" fill="#000"/>
<rect x="546" y="8" width="28" height="14" fill="#000"/>
<rect x="548" y="9" width="24" height="12" fill="#fff"/>
<text x="560" y="19" font-size="10.67" fill="#000" text-anchor="middle" stroke="#000" stroke-width="0.12">CF1</text>
<rect x="551" y="21" width="26" height="16" fill="#000"/>
<rect x="550" y="22" width="28" height="14" fill="#000"/>
<rect x="552" y="23" width="24" height="12" fill="#fff"/>
<text x="564" y="33" font-size="10.67" fill="#000" text-anchor="middle" stroke="#000" stroke-width="0.12">CF0</text>
<rect x="561" y="37" width="19" height="15" fill="#000"/>
<rect x="560" y="38" width="21" height="13" fill="#000"/>
<rect x="562" y="39" width="17" height="11" fill="#fff"/>
<text x="569.5" y="48" font-size="10.67" fill="#000" text-anchor="middle" stroke="#000" stroke-width="0.12">F1</text>
<rect x="561" y="52" width="18" height="15" fill="#000"/>
<rect x="560" y="53" width="20" height="13" fill="#000"/>
<rect x="562" y="54" width="16" height="11" fill="#fff"/>
<text x="569.3" y="63" font-size="10.67" fill="#000" text-anchor="middle" stroke="#000" stroke-width="0.12">F0</text>
<polygon points="590,71.6 588,72 586.5,72.9 581,73.1 580.3,73.9 577,73.9 577,76.1 580.3,76.1 581,76.9 586.5,77.1 588,78 590,78.4" fill="#000" shape-rendering="geometricPrecision"/>
<rect x="589" y="68" width="32" height="15" fill="#000"/>
<rect x="588" y="69" width="34" height="13" fill="#000"/>
<rect x="590" y="70" width="30" height="11" fill="#fff"/>
<text x="605.6" y="79" font-size="10.67" fill="#000" text-anchor="middle" stroke="#000" stroke-width="0.12">CN27</text>
<polygon points="592,73.6 589.5,73.8 587,74.6 586,74.85 586,75.15 587,75.4 589.5,76.2 592,76.4" fill="#fff" shape-rendering="geometricPrecision"/>
<rect x="618" y="82" width="24" height="15" fill="#000"/>
<rect x="617" y="83" width="26" height="13" fill="#000"/>
<rect x="619" y="84" width="22" height="11" fill="#fff"/>
<text x="630" y="93" font-size="10.67" fill="#000" text-anchor="middle" stroke="#000" stroke-width="0.12">CN1</text>
<rect x="478" y="85" width="26" height="15" fill="#000"/>
<rect x="477" y="86" width="28" height="13" fill="#000"/>
<rect x="479" y="87" width="24" height="11" fill="#fff"/>
<text x="491" y="96" font-size="10.67" fill="#000" text-anchor="middle" stroke="#000" stroke-width="0.12">FDP</text>
<rect x="488" y="105" width="32" height="15" fill="#000"/>
<rect x="487" y="106" width="34" height="13" fill="#000"/>
<rect x="489" y="107" width="30" height="11" fill="#fff"/>
<text x="504.8" y="116" font-size="10.67" fill="#000" text-anchor="middle" stroke="#000" stroke-width="0.12">CN26</text>
<polygon points="573,110.6 575,111 576.5,111.9 581,112.1 581.7,112.9 585,112.9 585,115.1 581.7,115.1 581,115.9 576.5,116.1 575,117 573,117.4" fill="#000" shape-rendering="geometricPrecision"/>
<rect x="542" y="107" width="32" height="15" fill="#000"/>
<rect x="541" y="108" width="34" height="13" fill="#000"/>
<rect x="543" y="109" width="30" height="11" fill="#fff"/>
<text x="558" y="118" font-size="10.67" fill="#000" text-anchor="middle" stroke="#000" stroke-width="0.12">CN28</text>
<polygon points="571,112.6 573.5,112.8 576,113.6 580,113.85 580,114.15 576,114.4 573.5,115.2 571,115.4" fill="#fff" shape-rendering="geometricPrecision"/>
<rect x="547" y="128" width="33" height="15" fill="#000"/>
<rect x="546" y="129" width="35" height="13" fill="#000"/>
<rect x="548" y="130" width="31" height="11" fill="#fff"/>
<text x="563" y="139" font-size="10.67" fill="#000" text-anchor="middle" stroke="#000" stroke-width="0.12">CN29</text>
<rect x="616" y="127" width="25" height="15" fill="#000"/>
<rect x="615" y="128" width="27" height="13" fill="#000"/>
<rect x="617" y="129" width="23" height="11" fill="#fff"/>
<text x="628.5" y="138" font-size="10.67" fill="#000" text-anchor="middle" stroke="#000" stroke-width="0.12">CN2</text>
<rect x="616" y="158" width="25" height="15" fill="#000"/>
<rect x="615" y="159" width="27" height="13" fill="#000"/>
<rect x="617" y="160" width="23" height="11" fill="#fff"/>
<text x="628.5" y="169" font-size="10.67" fill="#000" text-anchor="middle" stroke="#000" stroke-width="0.12">CN3</text>
<rect x="616" y="188" width="25" height="15" fill="#000"/>
<rect x="615" y="189" width="27" height="13" fill="#000"/>
<rect x="617" y="190" width="23" height="11" fill="#fff"/>
<text x="628.5" y="199" font-size="10.67" fill="#000" text-anchor="middle" stroke="#000" stroke-width="0.12">CN4</text>
<rect x="621" y="254" width="23" height="15" fill="#000"/>
<rect x="620" y="255" width="25" height="13" fill="#000"/>
<rect x="622" y="256" width="21" height="11" fill="#fff"/>
<text x="632.5" y="265" font-size="10.67" fill="#000" text-anchor="middle" stroke="#000" stroke-width="0.12">CN5</text>
<rect x="620" y="329" width="24" height="15" fill="#000"/>
<rect x="619" y="330" width="26" height="13" fill="#000"/>
<rect x="621" y="331" width="22" height="11" fill="#fff"/>
<text x="632" y="340" font-size="10.67" fill="#000" text-anchor="middle" stroke="#000" stroke-width="0.12">CN6</text>
<rect x="610" y="378" width="24" height="15" fill="#000"/>
<rect x="609" y="379" width="26" height="13" fill="#000"/>
<rect x="611" y="380" width="22" height="11" fill="#fff"/>
<text x="623.6" y="389" font-size="10.67" fill="#000" text-anchor="middle" stroke="#000" stroke-width="0.12">CN8</text>
<polygon points="42,276.6 44,277 45.5,277.9 51,278.1 51.7,278.9 55,278.9 55,281.1 51.7,281.1 51,281.9 45.5,282.1 44,283 42,283.4" fill="#000" shape-rendering="geometricPrecision"/>
<rect x="11" y="273" width="31" height="15" fill="#000"/>
<rect x="10" y="274" width="33" height="13" fill="#000"/>
<rect x="12" y="275" width="29" height="11" fill="#fff"/>
<text x="27.9" y="284" font-size="10.67" fill="#000" text-anchor="middle" stroke="#000" stroke-width="0.12">CN21</text>
<polygon points="40,278.6 42.5,278.8 45,279.6 49,279.85 49,280.15 45,280.4 42.5,281.2 40,281.4" fill="#fff" shape-rendering="geometricPrecision"/>
<polygon points="42,293.1 44,293.5 45.5,294.4 51,294.6 51.7,295.4 55,295.4 55,297.6 51.7,297.6 51,298.4 45.5,298.6 44,299.5 42,299.9" fill="#000" shape-rendering="geometricPrecision"/>
<rect x="11" y="289" width="31" height="15" fill="#000"/>
<rect x="10" y="290" width="33" height="13" fill="#000"/>
<rect x="12" y="291" width="29" height="11" fill="#fff"/>
<text x="27.5" y="300" font-size="10.67" fill="#000" text-anchor="middle" stroke="#000" stroke-width="0.12">CN17</text>
<polygon points="40,295.1 42.5,295.3 45,296.1 49,296.35 49,296.65 45,296.9 42.5,297.7 40,297.9" fill="#fff" shape-rendering="geometricPrecision"/>
<polygon points="40,328.6 42,329 43.5,329.9 49,330.1 49.7,330.9 53,330.9 53,333.1 49.7,333.1 49,333.9 43.5,334.1 42,335 40,335.4" fill="#000" shape-rendering="geometricPrecision"/>
<rect x="9" y="325" width="31" height="15" fill="#000"/>
<rect x="8" y="326" width="33" height="13" fill="#000"/>
<rect x="10" y="327" width="29" height="11" fill="#fff"/>
<text x="25.1" y="336" font-size="10.67" fill="#000" text-anchor="middle" stroke="#000" stroke-width="0.12">CN20</text>
<polygon points="38,330.6 40.5,330.8 43,331.6 47,331.85 47,332.15 43,332.4 40.5,333.2 38,333.4" fill="#fff" shape-rendering="geometricPrecision"/>
<polygon points="40,370.6 42,371 43.5,371.9 49,372.1 49.7,372.9 53,372.9 53,375.1 49.7,375.1 49,375.9 43.5,376.1 42,377 40,377.4" fill="#000" shape-rendering="geometricPrecision"/>
<rect x="8" y="366" width="32" height="15" fill="#000"/>
<rect x="7" y="367" width="34" height="13" fill="#000"/>
<rect x="9" y="368" width="30" height="11" fill="#fff"/>
<text x="25" y="377" font-size="10.67" fill="#000" text-anchor="middle" stroke="#000" stroke-width="0.12">CN18</text>
<polygon points="38,372.6 40.5,372.8 43,373.6 47,373.85 47,374.15 43,374.4 40.5,375.2 38,375.4" fill="#fff" shape-rendering="geometricPrecision"/>
<polygon points="39,426.6 41,427 42.5,427.9 47,428.1 47.7,428.9 51,428.9 51,431.1 47.7,431.1 47,431.9 42.5,432.1 41,433 39,433.4" fill="#000" shape-rendering="geometricPrecision"/>
<rect x="7" y="422" width="32" height="15" fill="#000"/>
<rect x="6" y="423" width="34" height="13" fill="#000"/>
<rect x="8" y="424" width="30" height="11" fill="#fff"/>
<text x="23" y="433" font-size="10.67" fill="#000" text-anchor="middle" stroke="#000" stroke-width="0.12">CN19</text>
<polygon points="37,428.6 39.5,428.8 42,429.6 46,429.85 46,430.15 42,430.4 39.5,431.2 37,431.4" fill="#fff" shape-rendering="geometricPrecision"/>
<polygon points="321,315.6 319,316 317.5,316.9 311,317.1 310.3,317.9 307,317.9 307,320.1 310.3,320.1 311,320.9 317.5,321.1 319,322 321,322.4" fill="#000" shape-rendering="geometricPrecision"/>
<rect x="320" y="311" width="31" height="15" fill="#000"/>
<rect x="319" y="312" width="33" height="13" fill="#000"/>
<rect x="321" y="313" width="29" height="11" fill="#fff"/>
<text x="336" y="322" font-size="10.67" fill="#000" text-anchor="middle" stroke="#000" stroke-width="0.12">CN30</text>
<polygon points="323,317.6 320.5,317.8 318,318.6 317,318.85 317,319.15 318,319.4 320.5,320.2 323,320.4" fill="#fff" shape-rendering="geometricPrecision"/>
<rect x="152" y="400" width="46" height="15" fill="#000"/>
<rect x="151" y="401" width="48" height="13" fill="#000"/>
<rect x="153" y="402" width="44" height="11" fill="#fff"/>
<text x="175" y="411" font-size="10.67" fill="#000" text-anchor="middle" stroke="#000" stroke-width="0.12">BANK 0</text>
<rect x="152" y="427" width="46" height="15" fill="#000"/>
<rect x="151" y="428" width="48" height="13" fill="#000"/>
<rect x="153" y="429" width="44" height="11" fill="#fff"/>
<text x="175" y="438" font-size="10.67" fill="#000" text-anchor="middle" stroke="#000" stroke-width="0.12">BANK 1</text>
<polygon points="279,423.4 281,423.8 282.5,424.7 287,424.9 287.7,425.7 291,425.7 291,427.9 287.7,427.9 287,428.7 282.5,428.9 281,429.8 279,430.2" fill="#000" shape-rendering="geometricPrecision"/>
<rect x="248" y="420" width="31" height="14" fill="#000"/>
<rect x="247" y="421" width="33" height="12" fill="#000"/>
<rect x="249" y="422" width="29" height="10" fill="#fff"/>
<text x="263.5" y="430" font-size="10.67" fill="#000" text-anchor="middle" stroke="#000" stroke-width="0.12">CN15</text>
<polygon points="277,425.4 279.5,425.6 282,426.4 283,426.65 283,426.95 282,427.2 279.5,428 277,428.2" fill="#fff" shape-rendering="geometricPrecision"/>
<polygon points="279,438.6 281,439 282.5,439.9 287,440.1 287.7,440.9 291,440.9 291,443.1 287.7,443.1 287,443.9 282.5,444.1 281,445 279,445.4" fill="#000" shape-rendering="geometricPrecision"/>
<rect x="248" y="434" width="31" height="14" fill="#000"/>
<rect x="247" y="435" width="33" height="12" fill="#000"/>
<rect x="249" y="436" width="29" height="10" fill="#fff"/>
<text x="263.5" y="444" font-size="10.67" fill="#000" text-anchor="middle" stroke="#000" stroke-width="0.12">CN16</text>
<polygon points="277,440.6 279.5,440.8 282,441.6 283,441.85 283,442.15 282,442.4 279.5,443.2 277,443.4" fill="#fff" shape-rendering="geometricPrecision"/>
<polygon points="339,393.1 341,393.5 342.5,394.4 346,394.6 346.7,395.4 350,395.4 350,397.6 346.7,397.6 346,398.4 342.5,398.6 341,399.5 339,399.9" fill="#000" shape-rendering="geometricPrecision"/>
<rect x="306" y="389" width="33" height="15" fill="#000"/>
<rect x="305" y="390" width="35" height="13" fill="#000"/>
<rect x="307" y="391" width="31" height="11" fill="#fff"/>
<text x="322.5" y="400" font-size="10.67" fill="#000" text-anchor="middle" stroke="#000" stroke-width="0.12">CN14</text>
<polygon points="337,395.1 339.5,395.3 342,396.1 343,396.35 343,396.65 342,396.9 339.5,397.7 337,397.9" fill="#fff" shape-rendering="geometricPrecision"/>
<rect x="373" y="379" width="32" height="15" fill="#000"/>
<rect x="372" y="380" width="34" height="13" fill="#000"/>
<rect x="374" y="381" width="30" height="11" fill="#fff"/>
<text x="389" y="390" font-size="10.67" fill="#000" text-anchor="middle" stroke="#000" stroke-width="0.12">CN13</text>
<rect x="448" y="367" width="32" height="15" fill="#000"/>
<rect x="447" y="368" width="34" height="13" fill="#000"/>
<rect x="449" y="369" width="30" height="11" fill="#fff"/>
<text x="464" y="378" font-size="10.67" fill="#000" text-anchor="middle" stroke="#000" stroke-width="0.12">CN10</text>
<rect x="448" y="477" width="33" height="15" fill="#000"/>
<rect x="447" y="478" width="35" height="13" fill="#000"/>
<rect x="449" y="479" width="31" height="11" fill="#fff"/>
<text x="464.5" y="488" font-size="10.67" fill="#000" text-anchor="middle" stroke="#000" stroke-width="0.12">CN11</text>
<polygon points="442.6,55 443,57 444,58.5 444.1,65 444.9,66 444.9,69 447.1,69 447.1,66 447.9,65 448,58.5 449,57 449.4,55" fill="#000" shape-rendering="geometricPrecision"/>
<polygon points="444.7,53 444.9,55.5 445.8,58.2 446.2,58.2 447.1,55.5 447.3,53" fill="#fff" shape-rendering="geometricPrecision"/>
<polygon points="386.1,392.5 386.5,394.5 387.5,396 387.6,403 388.4,404 388.4,407 390.6,407 390.6,404 391.4,403 391.5,396 392.5,394.5 392.9,392.5" fill="#000" shape-rendering="geometricPrecision"/>
<polygon points="388.2,390.5 388.4,393 389.3,395.7 389.7,395.7 390.6,393 390.8,390.5" fill="#fff" shape-rendering="geometricPrecision"/>
<polygon points="461.1,380 461.5,382 462.5,383.5 462.6,391 463.4,392 463.4,395 465.6,395 465.6,392 466.4,391 466.5,383.5 467.5,382 467.9,380" fill="#000" shape-rendering="geometricPrecision"/>
<polygon points="463.2,378 463.4,380.5 464.3,383.2 464.7,383.2 465.6,380.5 465.8,378" fill="#fff" shape-rendering="geometricPrecision"/>
<polygon points="461.4,479 461.8,477 462.8,475.5 462.9,468 463.7,467 463.7,464 465.9,464 465.9,467 466.7,468 466.8,475.5 467.8,477 468.2,479" fill="#000" shape-rendering="geometricPrecision"/>
<polygon points="463.5,481 463.7,478.5 464.6,475.8 465,475.8 465.9,478.5 466.1,481" fill="#fff" shape-rendering="geometricPrecision"/>
<text x="542" y="162.6" font-size="9" fill="#000" text-anchor="middle" letter-spacing="0.35">33902</text>
</svg>
</body></html>
